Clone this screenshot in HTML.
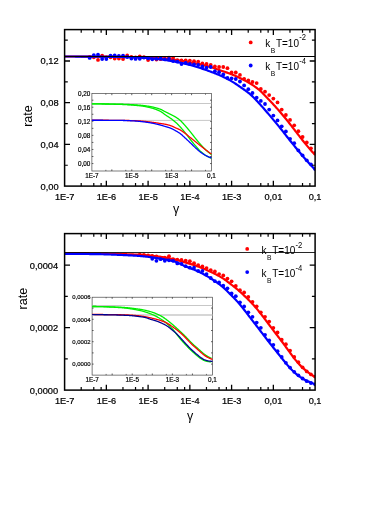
<!DOCTYPE html>
<html><head><meta charset="utf-8"><title>rate vs gamma</title>
<style>html,body{margin:0;padding:0;background:#fff;}body{width:390px;height:505px;overflow:hidden;position:relative;font-family:"Liberation Sans",sans-serif;}svg{display:block;position:absolute;left:0;top:0} svg.t{will-change:transform}</style>
</head><body>
<svg width="390" height="505" viewBox="0 0 390 505">
<defs><clipPath id="c1"><rect x="64.6" y="29.6" width="250.50000000000003" height="156.5"/></clipPath>
<clipPath id="c2"><rect x="64.6" y="233.6" width="250.50000000000003" height="156.50000000000003"/></clipPath></defs>
<rect width="390" height="505" fill="#fff"/>
<g clip-path="url(#c1)">
<path d="M64.60,56.50 L65.44,56.50 L66.28,56.50 L67.11,56.50 L67.95,56.50 L68.79,56.50 L69.63,56.50 L70.46,56.50 L71.30,56.50 L72.14,56.51 L72.98,56.51 L73.82,56.51 L74.65,56.51 L75.49,56.51 L76.33,56.51 L77.17,56.52 L78.00,56.52 L78.84,56.52 L79.68,56.52 L80.52,56.52 L81.36,56.53 L82.19,56.53 L83.03,56.53 L83.87,56.53 L84.71,56.54 L85.54,56.54 L86.38,56.54 L87.22,56.55 L88.06,56.55 L88.90,56.55 L89.73,56.56 L90.57,56.56 L91.41,56.56 L92.25,56.57 L93.08,56.57 L93.92,56.57 L94.76,56.58 L95.60,56.58 L96.44,56.58 L97.27,56.59 L98.11,56.59 L98.95,56.60 L99.79,56.60 L100.63,56.60 L101.46,56.61 L102.30,56.61 L103.14,56.62 L103.98,56.62 L104.81,56.63 L105.65,56.64 L106.49,56.65 L107.33,56.65 L108.17,56.66 L109.00,56.67 L109.84,56.68 L110.68,56.69 L111.52,56.70 L112.35,56.71 L113.19,56.72 L114.03,56.73 L114.87,56.74 L115.71,56.76 L116.54,56.77 L117.38,56.78 L118.22,56.79 L119.06,56.81 L119.89,56.82 L120.73,56.83 L121.57,56.85 L122.41,56.86 L123.25,56.88 L124.08,56.89 L124.92,56.91 L125.76,56.92 L126.60,56.94 L127.43,56.95 L128.27,56.97 L129.11,56.98 L129.95,57.00 L130.79,57.02 L131.62,57.03 L132.46,57.05 L133.30,57.07 L134.14,57.09 L134.97,57.11 L135.81,57.13 L136.65,57.15 L137.49,57.17 L138.33,57.20 L139.16,57.22 L140.00,57.24 L140.84,57.27 L141.68,57.30 L142.51,57.32 L143.35,57.35 L144.19,57.38 L145.03,57.41 L145.87,57.44 L146.70,57.47 L147.54,57.50 L148.38,57.53 L149.22,57.57 L150.05,57.60 L150.89,57.64 L151.73,57.68 L152.57,57.72 L153.41,57.77 L154.24,57.81 L155.08,57.86 L155.92,57.92 L156.76,57.97 L157.59,58.03 L158.43,58.09 L159.27,58.15 L160.11,58.21 L160.95,58.27 L161.78,58.34 L162.62,58.42 L163.46,58.50 L164.30,58.58 L165.14,58.66 L165.97,58.75 L166.81,58.84 L167.65,58.93 L168.49,59.03 L169.32,59.12 L170.16,59.22 L171.00,59.32 L171.84,59.42 L172.68,59.53 L173.51,59.64 L174.35,59.76 L175.19,59.88 L176.03,60.00 L176.86,60.12 L177.70,60.24 L178.54,60.37 L179.38,60.50 L180.22,60.63 L181.05,60.77 L181.89,60.91 L182.73,61.06 L183.57,61.20 L184.40,61.36 L185.24,61.51 L186.08,61.67 L186.92,61.82 L187.76,61.98 L188.59,62.14 L189.43,62.29 L190.27,62.45 L191.11,62.60 L191.94,62.76 L192.78,62.91 L193.62,63.06 L194.46,63.21 L195.30,63.37 L196.13,63.52 L196.97,63.68 L197.81,63.85 L198.65,64.02 L199.48,64.19 L200.32,64.37 L201.16,64.55 L202.00,64.74 L202.84,64.94 L203.67,65.13 L204.51,65.33 L205.35,65.54 L206.19,65.76 L207.02,65.97 L207.86,66.20 L208.70,66.43 L209.54,66.67 L210.38,66.91 L211.21,67.17 L212.05,67.44 L212.89,67.73 L213.73,68.02 L214.56,68.33 L215.40,68.63 L216.24,68.94 L217.08,69.25 L217.92,69.56 L218.75,69.86 L219.59,70.16 L220.43,70.45 L221.27,70.73 L222.11,71.00 L222.94,71.28 L223.78,71.55 L224.62,71.82 L225.46,72.09 L226.29,72.36 L227.13,72.64 L227.97,72.93 L228.81,73.23 L229.65,73.53 L230.48,73.85 L231.32,74.18 L232.16,74.52 L233.00,74.86 L233.83,75.22 L234.67,75.58 L235.51,75.95 L236.35,76.33 L237.19,76.72 L238.02,77.11 L238.86,77.51 L239.70,77.91 L240.54,78.32 L241.37,78.73 L242.21,79.15 L243.05,79.57 L243.89,80.00 L244.73,80.43 L245.56,80.88 L246.40,81.33 L247.24,81.80 L248.08,82.27 L248.91,82.76 L249.75,83.26 L250.59,83.77 L251.43,84.30 L252.27,84.83 L253.10,85.39 L253.94,85.95 L254.78,86.54 L255.62,87.14 L256.45,87.75 L257.29,88.39 L258.13,89.05 L258.97,89.73 L259.81,90.43 L260.64,91.18 L261.48,91.98 L262.32,92.83 L263.16,93.71 L263.99,94.60 L264.83,95.48 L265.67,96.34 L266.51,97.20 L267.35,98.07 L268.18,98.94 L269.02,99.81 L269.86,100.68 L270.70,101.56 L271.53,102.45 L272.37,103.34 L273.21,104.24 L274.05,105.15 L274.89,106.07 L275.72,107.00 L276.56,107.94 L277.40,108.88 L278.24,109.84 L279.07,110.80 L279.91,111.76 L280.75,112.74 L281.59,113.72 L282.43,114.71 L283.26,115.71 L284.10,116.71 L284.94,117.73 L285.78,118.75 L286.62,119.78 L287.45,120.83 L288.29,121.89 L289.13,122.96 L289.97,124.03 L290.80,125.11 L291.64,126.18 L292.48,127.26 L293.32,128.34 L294.16,129.42 L294.99,130.49 L295.83,131.56 L296.67,132.64 L297.51,133.73 L298.34,134.82 L299.18,135.91 L300.02,137.00 L300.86,138.08 L301.70,139.16 L302.53,140.23 L303.37,141.29 L304.21,142.33 L305.05,143.36 L305.88,144.37 L306.72,145.38 L307.56,146.38 L308.40,147.37 L309.24,148.35 L310.07,149.33 L310.91,150.29 L311.75,151.25 L312.59,152.20 L313.42,153.14 L314.26,154.08 L315.10,155.00" fill="none" stroke="#f00" stroke-width="2.2"/>
<circle cx="89.65" cy="57.00" r="1.9" fill="#f00"/>
<circle cx="93.82" cy="57.30" r="1.9" fill="#f00"/>
<circle cx="98.00" cy="59.90" r="1.9" fill="#f00"/>
<circle cx="102.17" cy="55.60" r="1.9" fill="#f00"/>
<circle cx="106.35" cy="57.50" r="1.9" fill="#f00"/>
<circle cx="110.52" cy="57.30" r="1.9" fill="#f00"/>
<circle cx="114.70" cy="58.60" r="1.9" fill="#f00"/>
<circle cx="118.88" cy="58.60" r="1.9" fill="#f00"/>
<circle cx="123.05" cy="59.00" r="1.9" fill="#f00"/>
<circle cx="127.22" cy="55.40" r="1.9" fill="#f00"/>
<circle cx="131.40" cy="57.00" r="1.9" fill="#f00"/>
<circle cx="135.57" cy="57.44" r="1.9" fill="#f00"/>
<circle cx="139.75" cy="56.32" r="1.9" fill="#f00"/>
<circle cx="143.93" cy="57.26" r="1.9" fill="#f00"/>
<circle cx="148.10" cy="60.00" r="1.9" fill="#f00"/>
<circle cx="152.28" cy="57.85" r="1.9" fill="#f00"/>
<circle cx="156.45" cy="59.50" r="1.9" fill="#f00"/>
<circle cx="160.62" cy="59.15" r="1.9" fill="#f00"/>
<circle cx="164.80" cy="58.39" r="1.9" fill="#f00"/>
<circle cx="168.97" cy="57.68" r="1.9" fill="#f00"/>
<circle cx="173.15" cy="57.84" r="1.9" fill="#f00"/>
<circle cx="177.32" cy="60.18" r="1.9" fill="#f00"/>
<circle cx="181.50" cy="60.40" r="1.9" fill="#f00"/>
<circle cx="185.68" cy="60.30" r="1.9" fill="#f00"/>
<circle cx="189.85" cy="60.60" r="1.9" fill="#f00"/>
<circle cx="194.03" cy="61.20" r="1.9" fill="#f00"/>
<circle cx="198.20" cy="61.60" r="1.9" fill="#f00"/>
<circle cx="202.38" cy="63.50" r="1.9" fill="#f00"/>
<circle cx="206.55" cy="64.00" r="1.9" fill="#f00"/>
<circle cx="210.72" cy="65.00" r="1.9" fill="#f00"/>
<circle cx="214.90" cy="66.50" r="1.9" fill="#f00"/>
<circle cx="219.08" cy="67.00" r="1.9" fill="#f00"/>
<circle cx="223.25" cy="67.00" r="1.9" fill="#f00"/>
<circle cx="227.43" cy="68.20" r="1.9" fill="#f00"/>
<circle cx="231.60" cy="72.50" r="1.9" fill="#f00"/>
<circle cx="235.78" cy="72.50" r="1.9" fill="#f00"/>
<circle cx="239.95" cy="74.90" r="1.9" fill="#f00"/>
<circle cx="244.12" cy="78.80" r="1.9" fill="#f00"/>
<circle cx="248.30" cy="80.50" r="1.9" fill="#f00"/>
<circle cx="252.48" cy="82.00" r="1.9" fill="#f00"/>
<circle cx="256.65" cy="83.10" r="1.9" fill="#f00"/>
<circle cx="260.82" cy="88.90" r="1.9" fill="#f00"/>
<circle cx="265.00" cy="91.70" r="1.9" fill="#f00"/>
<circle cx="269.18" cy="95.10" r="1.9" fill="#f00"/>
<circle cx="273.35" cy="98.60" r="1.9" fill="#f00"/>
<circle cx="277.53" cy="102.40" r="1.9" fill="#f00"/>
<circle cx="281.70" cy="109.60" r="1.9" fill="#f00"/>
<circle cx="285.88" cy="115.00" r="1.9" fill="#f00"/>
<circle cx="290.05" cy="119.90" r="1.9" fill="#f00"/>
<circle cx="294.23" cy="125.30" r="1.9" fill="#f00"/>
<circle cx="298.40" cy="131.20" r="1.9" fill="#f00"/>
<circle cx="302.58" cy="137.00" r="1.9" fill="#f00"/>
<circle cx="306.75" cy="142.50" r="1.9" fill="#f00"/>
<circle cx="310.93" cy="148.30" r="1.9" fill="#f00"/>
<circle cx="315.10" cy="153.00" r="1.9" fill="#f00"/>
<path d="M64.60,56.50 L65.44,56.50 L66.28,56.50 L67.11,56.50 L67.95,56.50 L68.79,56.50 L69.63,56.51 L70.46,56.51 L71.30,56.51 L72.14,56.51 L72.98,56.52 L73.82,56.52 L74.65,56.52 L75.49,56.53 L76.33,56.53 L77.17,56.53 L78.00,56.54 L78.84,56.54 L79.68,56.55 L80.52,56.55 L81.36,56.56 L82.19,56.56 L83.03,56.57 L83.87,56.57 L84.71,56.58 L85.54,56.58 L86.38,56.59 L87.22,56.60 L88.06,56.60 L88.90,56.61 L89.73,56.62 L90.57,56.62 L91.41,56.63 L92.25,56.63 L93.08,56.64 L93.92,56.65 L94.76,56.66 L95.60,56.66 L96.44,56.67 L97.27,56.68 L98.11,56.68 L98.95,56.69 L99.79,56.70 L100.63,56.71 L101.46,56.71 L102.30,56.72 L103.14,56.73 L103.98,56.74 L104.81,56.75 L105.65,56.76 L106.49,56.76 L107.33,56.77 L108.17,56.79 L109.00,56.80 L109.84,56.81 L110.68,56.82 L111.52,56.83 L112.35,56.84 L113.19,56.85 L114.03,56.87 L114.87,56.88 L115.71,56.89 L116.54,56.91 L117.38,56.92 L118.22,56.94 L119.06,56.95 L119.89,56.97 L120.73,56.99 L121.57,57.00 L122.41,57.02 L123.25,57.04 L124.08,57.06 L124.92,57.07 L125.76,57.09 L126.60,57.11 L127.43,57.13 L128.27,57.16 L129.11,57.18 L129.95,57.20 L130.79,57.22 L131.62,57.25 L132.46,57.28 L133.30,57.31 L134.14,57.34 L134.97,57.38 L135.81,57.41 L136.65,57.45 L137.49,57.50 L138.33,57.54 L139.16,57.59 L140.00,57.63 L140.84,57.68 L141.68,57.73 L142.51,57.78 L143.35,57.84 L144.19,57.89 L145.03,57.95 L145.87,58.01 L146.70,58.06 L147.54,58.12 L148.38,58.18 L149.22,58.24 L150.05,58.30 L150.89,58.37 L151.73,58.44 L152.57,58.51 L153.41,58.59 L154.24,58.67 L155.08,58.75 L155.92,58.84 L156.76,58.93 L157.59,59.02 L158.43,59.12 L159.27,59.21 L160.11,59.31 L160.95,59.42 L161.78,59.53 L162.62,59.64 L163.46,59.76 L164.30,59.89 L165.14,60.02 L165.97,60.15 L166.81,60.28 L167.65,60.42 L168.49,60.55 L169.32,60.69 L170.16,60.83 L171.00,60.96 L171.84,61.10 L172.68,61.25 L173.51,61.39 L174.35,61.54 L175.19,61.68 L176.03,61.84 L176.86,61.99 L177.70,62.15 L178.54,62.31 L179.38,62.47 L180.22,62.64 L181.05,62.82 L181.89,62.99 L182.73,63.18 L183.57,63.36 L184.40,63.55 L185.24,63.74 L186.08,63.94 L186.92,64.14 L187.76,64.35 L188.59,64.56 L189.43,64.77 L190.27,64.99 L191.11,65.22 L191.94,65.45 L192.78,65.69 L193.62,65.93 L194.46,66.18 L195.30,66.44 L196.13,66.70 L196.97,66.96 L197.81,67.23 L198.65,67.50 L199.48,67.77 L200.32,68.04 L201.16,68.32 L202.00,68.59 L202.84,68.87 L203.67,69.16 L204.51,69.44 L205.35,69.73 L206.19,70.02 L207.02,70.32 L207.86,70.62 L208.70,70.92 L209.54,71.23 L210.38,71.54 L211.21,71.86 L212.05,72.17 L212.89,72.49 L213.73,72.81 L214.56,73.14 L215.40,73.47 L216.24,73.81 L217.08,74.15 L217.92,74.50 L218.75,74.86 L219.59,75.22 L220.43,75.59 L221.27,75.97 L222.11,76.35 L222.94,76.74 L223.78,77.13 L224.62,77.54 L225.46,77.95 L226.29,78.37 L227.13,78.79 L227.97,79.23 L228.81,79.68 L229.65,80.13 L230.48,80.60 L231.32,81.09 L232.16,81.59 L233.00,82.11 L233.83,82.64 L234.67,83.18 L235.51,83.73 L236.35,84.29 L237.19,84.86 L238.02,85.43 L238.86,86.01 L239.70,86.59 L240.54,87.18 L241.37,87.76 L242.21,88.33 L243.05,88.92 L243.89,89.50 L244.73,90.09 L245.56,90.69 L246.40,91.30 L247.24,91.93 L248.08,92.57 L248.91,93.23 L249.75,93.91 L250.59,94.62 L251.43,95.36 L252.27,96.13 L253.10,96.94 L253.94,97.78 L254.78,98.64 L255.62,99.53 L256.45,100.43 L257.29,101.34 L258.13,102.25 L258.97,103.17 L259.81,104.09 L260.64,105.00 L261.48,105.93 L262.32,106.87 L263.16,107.82 L263.99,108.78 L264.83,109.75 L265.67,110.72 L266.51,111.70 L267.35,112.68 L268.18,113.66 L269.02,114.65 L269.86,115.63 L270.70,116.62 L271.53,117.61 L272.37,118.60 L273.21,119.59 L274.05,120.59 L274.89,121.59 L275.72,122.59 L276.56,123.60 L277.40,124.62 L278.24,125.64 L279.07,126.66 L279.91,127.69 L280.75,128.73 L281.59,129.78 L282.43,130.84 L283.26,131.91 L284.10,132.98 L284.94,134.05 L285.78,135.13 L286.62,136.20 L287.45,137.28 L288.29,138.34 L289.13,139.41 L289.97,140.46 L290.80,141.50 L291.64,142.55 L292.48,143.60 L293.32,144.64 L294.16,145.68 L294.99,146.72 L295.83,147.75 L296.67,148.78 L297.51,149.80 L298.34,150.82 L299.18,151.82 L300.02,152.82 L300.86,153.82 L301.70,154.81 L302.53,155.79 L303.37,156.77 L304.21,157.75 L305.05,158.72 L305.88,159.68 L306.72,160.64 L307.56,161.58 L308.40,162.52 L309.24,163.46 L310.07,164.38 L310.91,165.29 L311.75,166.19 L312.59,167.08 L313.42,167.96 L314.26,168.84 L315.10,169.70" fill="none" stroke="#00f" stroke-width="2.2"/>
<circle cx="89.65" cy="57.90" r="1.9" fill="#00f"/>
<circle cx="93.82" cy="55.10" r="1.9" fill="#00f"/>
<circle cx="98.00" cy="54.70" r="1.9" fill="#00f"/>
<circle cx="102.17" cy="59.00" r="1.9" fill="#00f"/>
<circle cx="106.35" cy="59.00" r="1.9" fill="#00f"/>
<circle cx="110.52" cy="55.60" r="1.9" fill="#00f"/>
<circle cx="114.70" cy="55.40" r="1.9" fill="#00f"/>
<circle cx="118.88" cy="56.00" r="1.9" fill="#00f"/>
<circle cx="123.05" cy="55.60" r="1.9" fill="#00f"/>
<circle cx="127.22" cy="57.00" r="1.9" fill="#00f"/>
<circle cx="131.40" cy="58.60" r="1.9" fill="#00f"/>
<circle cx="135.57" cy="58.90" r="1.9" fill="#00f"/>
<circle cx="139.75" cy="58.81" r="1.9" fill="#00f"/>
<circle cx="143.93" cy="57.56" r="1.9" fill="#00f"/>
<circle cx="148.10" cy="58.35" r="1.9" fill="#00f"/>
<circle cx="152.28" cy="59.36" r="1.9" fill="#00f"/>
<circle cx="156.45" cy="58.86" r="1.9" fill="#00f"/>
<circle cx="160.62" cy="58.21" r="1.9" fill="#00f"/>
<circle cx="164.80" cy="59.44" r="1.9" fill="#00f"/>
<circle cx="168.97" cy="58.82" r="1.9" fill="#00f"/>
<circle cx="173.15" cy="61.04" r="1.9" fill="#00f"/>
<circle cx="177.32" cy="61.69" r="1.9" fill="#00f"/>
<circle cx="181.50" cy="64.00" r="1.9" fill="#00f"/>
<circle cx="185.68" cy="63.00" r="1.9" fill="#00f"/>
<circle cx="189.85" cy="64.00" r="1.9" fill="#00f"/>
<circle cx="194.03" cy="64.30" r="1.9" fill="#00f"/>
<circle cx="198.20" cy="65.00" r="1.9" fill="#00f"/>
<circle cx="202.38" cy="66.50" r="1.9" fill="#00f"/>
<circle cx="206.55" cy="67.60" r="1.9" fill="#00f"/>
<circle cx="210.72" cy="67.00" r="1.9" fill="#00f"/>
<circle cx="214.90" cy="71.20" r="1.9" fill="#00f"/>
<circle cx="219.08" cy="72.20" r="1.9" fill="#00f"/>
<circle cx="223.25" cy="74.40" r="1.9" fill="#00f"/>
<circle cx="227.43" cy="78.00" r="1.9" fill="#00f"/>
<circle cx="231.60" cy="78.30" r="1.9" fill="#00f"/>
<circle cx="235.78" cy="79.00" r="1.9" fill="#00f"/>
<circle cx="239.95" cy="81.50" r="1.9" fill="#00f"/>
<circle cx="244.12" cy="85.40" r="1.9" fill="#00f"/>
<circle cx="248.30" cy="89.20" r="1.9" fill="#00f"/>
<circle cx="252.48" cy="93.00" r="1.9" fill="#00f"/>
<circle cx="256.65" cy="97.70" r="1.9" fill="#00f"/>
<circle cx="260.82" cy="100.90" r="1.9" fill="#00f"/>
<circle cx="265.00" cy="104.00" r="1.9" fill="#00f"/>
<circle cx="269.18" cy="109.60" r="1.9" fill="#00f"/>
<circle cx="273.35" cy="115.60" r="1.9" fill="#00f"/>
<circle cx="277.53" cy="120.40" r="1.9" fill="#00f"/>
<circle cx="281.70" cy="126.30" r="1.9" fill="#00f"/>
<circle cx="285.88" cy="131.40" r="1.9" fill="#00f"/>
<circle cx="290.05" cy="138.80" r="1.9" fill="#00f"/>
<circle cx="294.23" cy="143.20" r="1.9" fill="#00f"/>
<circle cx="298.40" cy="150.40" r="1.9" fill="#00f"/>
<circle cx="302.58" cy="155.30" r="1.9" fill="#00f"/>
<circle cx="306.75" cy="160.30" r="1.9" fill="#00f"/>
<circle cx="310.93" cy="164.30" r="1.9" fill="#00f"/>
<circle cx="315.10" cy="169.00" r="1.9" fill="#00f"/>
<path d="M64.6,56.5 H315.1" stroke="#000" stroke-width="1"/>
</g>
<rect x="91.9" y="93.6" width="119.6" height="77.4" fill="#fff" stroke="none"/>
<rect x="91.9" y="93.6" width="119.6" height="77.4" fill="none" stroke="#383838" stroke-width="0.65"/>
<path d="M91.9,163.55 h1.5 M211.5,163.55 h-1.5" stroke="#222" stroke-width="0.7"/>
<path d="M91.9,156.51 h1.5 M211.5,156.51 h-1.5" stroke="#222" stroke-width="0.7"/>
<path d="M91.9,149.47 h1.5 M211.5,149.47 h-1.5" stroke="#222" stroke-width="0.7"/>
<path d="M91.9,142.43 h1.5 M211.5,142.43 h-1.5" stroke="#222" stroke-width="0.7"/>
<path d="M91.9,135.39 h1.5 M211.5,135.39 h-1.5" stroke="#222" stroke-width="0.7"/>
<path d="M91.9,128.35 h1.5 M211.5,128.35 h-1.5" stroke="#222" stroke-width="0.7"/>
<path d="M91.9,121.31 h1.5 M211.5,121.31 h-1.5" stroke="#222" stroke-width="0.7"/>
<path d="M91.9,114.27 h1.5 M211.5,114.27 h-1.5" stroke="#222" stroke-width="0.7"/>
<path d="M91.9,107.23 h1.5 M211.5,107.23 h-1.5" stroke="#222" stroke-width="0.7"/>
<path d="M91.9,100.19 h1.5 M211.5,100.19 h-1.5" stroke="#222" stroke-width="0.7"/>
<path d="M105.83,93.6 v1.2 M105.83,171.0 v-1.2" stroke="#222" stroke-width="0.6"/>
<path d="M111.83,93.6 v1.6 M111.83,171.0 v-1.6" stroke="#222" stroke-width="0.7"/>
<path d="M125.77,93.6 v1.2 M125.77,171.0 v-1.2" stroke="#222" stroke-width="0.6"/>
<path d="M131.77,93.6 v1.6 M131.77,171.0 v-1.6" stroke="#222" stroke-width="0.7"/>
<path d="M145.70,93.6 v1.2 M145.70,171.0 v-1.2" stroke="#222" stroke-width="0.6"/>
<path d="M151.70,93.6 v1.6 M151.70,171.0 v-1.6" stroke="#222" stroke-width="0.7"/>
<path d="M165.63,93.6 v1.2 M165.63,171.0 v-1.2" stroke="#222" stroke-width="0.6"/>
<path d="M171.63,93.6 v1.6 M171.63,171.0 v-1.6" stroke="#222" stroke-width="0.7"/>
<path d="M185.57,93.6 v1.2 M185.57,171.0 v-1.2" stroke="#222" stroke-width="0.6"/>
<path d="M191.57,93.6 v1.6 M191.57,171.0 v-1.6" stroke="#222" stroke-width="0.7"/>
<path d="M205.50,93.6 v1.2 M205.50,171.0 v-1.2" stroke="#222" stroke-width="0.6"/>
<path d="M91.9,103.5 H211.5 M91.9,120.4 H211.5" stroke="#b4b4b4" stroke-width="0.75"/>
<path d="M91.90,103.90 L92.20,103.90 L92.50,103.90 L92.80,103.90 L93.10,103.90 L93.40,103.90 L93.70,103.90 L94.00,103.90 L94.30,103.90 L94.60,103.90 L94.90,103.90 L95.20,103.91 L95.50,103.91 L95.80,103.91 L96.10,103.91 L96.40,103.91 L96.70,103.91 L97.00,103.91 L97.30,103.91 L97.60,103.92 L97.89,103.92 L98.19,103.92 L98.49,103.92 L98.79,103.92 L99.09,103.92 L99.39,103.93 L99.69,103.93 L99.99,103.93 L100.29,103.93 L100.59,103.93 L100.89,103.94 L101.19,103.94 L101.49,103.94 L101.79,103.94 L102.09,103.95 L102.39,103.95 L102.69,103.95 L102.99,103.95 L103.29,103.96 L103.59,103.96 L103.89,103.96 L104.19,103.97 L104.49,103.97 L104.79,103.97 L105.09,103.98 L105.39,103.98 L105.69,103.98 L105.99,103.99 L106.29,103.99 L106.59,103.99 L106.89,104.00 L107.19,104.00 L107.49,104.00 L107.79,104.01 L108.09,104.01 L108.39,104.02 L108.69,104.02 L108.99,104.02 L109.29,104.03 L109.59,104.03 L109.88,104.04 L110.18,104.04 L110.48,104.04 L110.78,104.05 L111.08,104.05 L111.38,104.06 L111.68,104.06 L111.98,104.07 L112.28,104.07 L112.58,104.07 L112.88,104.08 L113.18,104.08 L113.48,104.09 L113.78,104.09 L114.08,104.10 L114.38,104.10 L114.68,104.11 L114.98,104.11 L115.28,104.12 L115.58,104.12 L115.88,104.13 L116.18,104.13 L116.48,104.14 L116.78,104.14 L117.08,104.15 L117.38,104.15 L117.68,104.16 L117.98,104.16 L118.28,104.17 L118.58,104.17 L118.88,104.18 L119.18,104.19 L119.48,104.19 L119.78,104.20 L120.08,104.20 L120.38,104.21 L120.68,104.21 L120.98,104.22 L121.28,104.23 L121.58,104.23 L121.87,104.24 L122.17,104.25 L122.47,104.26 L122.77,104.26 L123.07,104.27 L123.37,104.28 L123.67,104.29 L123.97,104.30 L124.27,104.31 L124.57,104.32 L124.87,104.33 L125.17,104.34 L125.47,104.35 L125.77,104.37 L126.07,104.38 L126.37,104.39 L126.67,104.40 L126.97,104.41 L127.27,104.43 L127.57,104.44 L127.87,104.45 L128.17,104.47 L128.47,104.48 L128.77,104.49 L129.07,104.51 L129.37,104.52 L129.67,104.54 L129.97,104.55 L130.27,104.57 L130.57,104.59 L130.87,104.60 L131.17,104.62 L131.47,104.63 L131.77,104.65 L132.07,104.67 L132.37,104.69 L132.67,104.70 L132.97,104.72 L133.27,104.74 L133.57,104.76 L133.86,104.78 L134.16,104.79 L134.46,104.81 L134.76,104.83 L135.06,104.85 L135.36,104.87 L135.66,104.89 L135.96,104.91 L136.26,104.93 L136.56,104.95 L136.86,104.97 L137.16,104.99 L137.46,105.01 L137.76,105.04 L138.06,105.06 L138.36,105.08 L138.66,105.10 L138.96,105.12 L139.26,105.14 L139.56,105.17 L139.86,105.19 L140.16,105.21 L140.46,105.24 L140.76,105.26 L141.06,105.29 L141.36,105.31 L141.66,105.34 L141.96,105.37 L142.26,105.40 L142.56,105.43 L142.86,105.47 L143.16,105.50 L143.46,105.54 L143.76,105.57 L144.06,105.61 L144.36,105.64 L144.66,105.68 L144.96,105.72 L145.26,105.76 L145.56,105.80 L145.85,105.84 L146.15,105.89 L146.45,105.93 L146.75,105.98 L147.05,106.02 L147.35,106.07 L147.65,106.11 L147.95,106.16 L148.25,106.21 L148.55,106.26 L148.85,106.31 L149.15,106.36 L149.45,106.41 L149.75,106.46 L150.05,106.51 L150.35,106.56 L150.65,106.62 L150.95,106.67 L151.25,106.73 L151.55,106.79 L151.85,106.85 L152.15,106.91 L152.45,106.97 L152.75,107.04 L153.05,107.10 L153.35,107.17 L153.65,107.24 L153.95,107.31 L154.25,107.38 L154.55,107.46 L154.85,107.53 L155.15,107.61 L155.45,107.69 L155.75,107.77 L156.05,107.85 L156.35,107.93 L156.65,108.02 L156.95,108.10 L157.25,108.19 L157.55,108.28 L157.84,108.38 L158.14,108.47 L158.44,108.57 L158.74,108.66 L159.04,108.76 L159.34,108.86 L159.64,108.97 L159.94,109.07 L160.24,109.18 L160.54,109.29 L160.84,109.41 L161.14,109.55 L161.44,109.69 L161.74,109.83 L162.04,109.99 L162.34,110.15 L162.64,110.31 L162.94,110.48 L163.24,110.64 L163.54,110.81 L163.84,110.98 L164.14,111.14 L164.44,111.31 L164.74,111.47 L165.04,111.62 L165.34,111.77 L165.64,111.92 L165.94,112.07 L166.24,112.22 L166.54,112.37 L166.84,112.52 L167.14,112.67 L167.44,112.82 L167.74,112.96 L168.04,113.11 L168.34,113.26 L168.64,113.41 L168.94,113.56 L169.24,113.71 L169.54,113.86 L169.83,114.01 L170.13,114.16 L170.43,114.31 L170.73,114.46 L171.03,114.61 L171.33,114.77 L171.63,114.92 L171.93,115.07 L172.23,115.22 L172.53,115.37 L172.83,115.52 L173.13,115.68 L173.43,115.83 L173.73,115.99 L174.03,116.15 L174.33,116.31 L174.63,116.48 L174.93,116.66 L175.23,116.84 L175.53,117.02 L175.83,117.21 L176.13,117.40 L176.43,117.59 L176.73,117.79 L177.03,117.99 L177.33,118.19 L177.63,118.40 L177.93,118.61 L178.23,118.83 L178.53,119.05 L178.83,119.28 L179.13,119.51 L179.43,119.75 L179.73,119.99 L180.03,120.24 L180.33,120.49 L180.63,120.76 L180.93,121.04 L181.23,121.33 L181.53,121.63 L181.82,121.94 L182.12,122.25 L182.42,122.57 L182.72,122.90 L183.02,123.23 L183.32,123.56 L183.62,123.90 L183.92,124.24 L184.22,124.58 L184.52,124.92 L184.82,125.26 L185.12,125.60 L185.42,125.94 L185.72,126.28 L186.02,126.62 L186.32,126.97 L186.62,127.32 L186.92,127.67 L187.22,128.03 L187.52,128.38 L187.82,128.74 L188.12,129.10 L188.42,129.47 L188.72,129.83 L189.02,130.20 L189.32,130.57 L189.62,130.94 L189.92,131.31 L190.22,131.68 L190.52,132.05 L190.82,132.42 L191.12,132.80 L191.42,133.18 L191.72,133.56 L192.02,133.94 L192.32,134.33 L192.62,134.72 L192.92,135.11 L193.22,135.49 L193.52,135.88 L193.81,136.27 L194.11,136.65 L194.41,137.04 L194.71,137.42 L195.01,137.79 L195.31,138.17 L195.61,138.54 L195.91,138.91 L196.21,139.28 L196.51,139.65 L196.81,140.02 L197.11,140.39 L197.41,140.75 L197.71,141.12 L198.01,141.48 L198.31,141.84 L198.61,142.20 L198.91,142.56 L199.21,142.91 L199.51,143.26 L199.81,143.61 L200.11,143.95 L200.41,144.29 L200.71,144.62 L201.01,144.95 L201.31,145.28 L201.61,145.61 L201.91,145.94 L202.21,146.27 L202.51,146.59 L202.81,146.91 L203.11,147.23 L203.41,147.54 L203.71,147.85 L204.01,148.16 L204.31,148.46 L204.61,148.76 L204.91,149.05 L205.21,149.34 L205.51,149.63 L205.80,149.90 L206.10,150.18 L206.40,150.45 L206.70,150.72 L207.00,150.99 L207.30,151.25 L207.60,151.51 L207.90,151.77 L208.20,152.02 L208.50,152.28 L208.80,152.52 L209.10,152.77 L209.40,153.01 L209.70,153.25 L210.00,153.48 L210.30,153.71 L210.60,153.94 L210.90,154.16 L211.20,154.38 L211.50,154.60" fill="none" stroke="#0e0" stroke-width="1.3"/>
<path d="M91.90,103.90 L92.20,103.90 L92.50,103.90 L92.80,103.90 L93.10,103.90 L93.40,103.90 L93.70,103.90 L94.00,103.90 L94.30,103.90 L94.60,103.91 L94.90,103.91 L95.20,103.91 L95.50,103.91 L95.80,103.91 L96.10,103.91 L96.40,103.92 L96.70,103.92 L97.00,103.92 L97.30,103.92 L97.60,103.93 L97.89,103.93 L98.19,103.93 L98.49,103.93 L98.79,103.94 L99.09,103.94 L99.39,103.94 L99.69,103.95 L99.99,103.95 L100.29,103.96 L100.59,103.96 L100.89,103.96 L101.19,103.97 L101.49,103.97 L101.79,103.98 L102.09,103.98 L102.39,103.98 L102.69,103.99 L102.99,103.99 L103.29,104.00 L103.59,104.00 L103.89,104.01 L104.19,104.01 L104.49,104.02 L104.79,104.03 L105.09,104.03 L105.39,104.04 L105.69,104.04 L105.99,104.05 L106.29,104.05 L106.59,104.06 L106.89,104.07 L107.19,104.07 L107.49,104.08 L107.79,104.08 L108.09,104.09 L108.39,104.10 L108.69,104.10 L108.99,104.11 L109.29,104.12 L109.59,104.12 L109.88,104.13 L110.18,104.14 L110.48,104.14 L110.78,104.15 L111.08,104.16 L111.38,104.17 L111.68,104.17 L111.98,104.18 L112.28,104.19 L112.58,104.20 L112.88,104.20 L113.18,104.21 L113.48,104.22 L113.78,104.23 L114.08,104.23 L114.38,104.24 L114.68,104.25 L114.98,104.26 L115.28,104.27 L115.58,104.27 L115.88,104.28 L116.18,104.29 L116.48,104.30 L116.78,104.31 L117.08,104.32 L117.38,104.32 L117.68,104.33 L117.98,104.34 L118.28,104.35 L118.58,104.36 L118.88,104.37 L119.18,104.38 L119.48,104.38 L119.78,104.39 L120.08,104.40 L120.38,104.41 L120.68,104.42 L120.98,104.43 L121.28,104.44 L121.58,104.45 L121.87,104.46 L122.17,104.47 L122.47,104.49 L122.77,104.50 L123.07,104.51 L123.37,104.52 L123.67,104.54 L123.97,104.55 L124.27,104.57 L124.57,104.58 L124.87,104.60 L125.17,104.61 L125.47,104.63 L125.77,104.64 L126.07,104.66 L126.37,104.68 L126.67,104.69 L126.97,104.71 L127.27,104.73 L127.57,104.75 L127.87,104.77 L128.17,104.78 L128.47,104.80 L128.77,104.82 L129.07,104.84 L129.37,104.86 L129.67,104.89 L129.97,104.91 L130.27,104.93 L130.57,104.95 L130.87,104.97 L131.17,104.99 L131.47,105.02 L131.77,105.04 L132.07,105.06 L132.37,105.09 L132.67,105.11 L132.97,105.14 L133.27,105.16 L133.57,105.19 L133.86,105.21 L134.16,105.24 L134.46,105.26 L134.76,105.29 L135.06,105.32 L135.36,105.34 L135.66,105.37 L135.96,105.40 L136.26,105.43 L136.56,105.45 L136.86,105.48 L137.16,105.51 L137.46,105.54 L137.76,105.57 L138.06,105.60 L138.36,105.63 L138.66,105.66 L138.96,105.69 L139.26,105.72 L139.56,105.75 L139.86,105.79 L140.16,105.82 L140.46,105.85 L140.76,105.89 L141.06,105.92 L141.36,105.96 L141.66,106.00 L141.96,106.04 L142.26,106.08 L142.56,106.13 L142.86,106.17 L143.16,106.22 L143.46,106.27 L143.76,106.32 L144.06,106.37 L144.36,106.42 L144.66,106.47 L144.96,106.53 L145.26,106.58 L145.56,106.64 L145.85,106.69 L146.15,106.75 L146.45,106.81 L146.75,106.88 L147.05,106.94 L147.35,107.00 L147.65,107.06 L147.95,107.13 L148.25,107.20 L148.55,107.26 L148.85,107.33 L149.15,107.40 L149.45,107.47 L149.75,107.54 L150.05,107.61 L150.35,107.69 L150.65,107.76 L150.95,107.84 L151.25,107.92 L151.55,108.00 L151.85,108.08 L152.15,108.16 L152.45,108.25 L152.75,108.34 L153.05,108.43 L153.35,108.52 L153.65,108.61 L153.95,108.71 L154.25,108.81 L154.55,108.91 L154.85,109.01 L155.15,109.12 L155.45,109.23 L155.75,109.34 L156.05,109.45 L156.35,109.56 L156.65,109.68 L156.95,109.80 L157.25,109.92 L157.55,110.04 L157.84,110.17 L158.14,110.30 L158.44,110.43 L158.74,110.56 L159.04,110.70 L159.34,110.84 L159.64,110.98 L159.94,111.13 L160.24,111.27 L160.54,111.43 L160.84,111.59 L161.14,111.78 L161.44,111.97 L161.74,112.17 L162.04,112.39 L162.34,112.61 L162.64,112.83 L162.94,113.06 L163.24,113.29 L163.54,113.52 L163.84,113.75 L164.14,113.98 L164.44,114.20 L164.74,114.42 L165.04,114.63 L165.34,114.83 L165.64,115.03 L165.94,115.23 L166.24,115.43 L166.54,115.63 L166.84,115.83 L167.14,116.02 L167.44,116.22 L167.74,116.42 L168.04,116.61 L168.34,116.81 L168.64,117.01 L168.94,117.20 L169.24,117.40 L169.54,117.60 L169.83,117.80 L170.13,118.01 L170.43,118.22 L170.73,118.42 L171.03,118.64 L171.33,118.85 L171.63,119.07 L171.93,119.29 L172.23,119.51 L172.53,119.73 L172.83,119.96 L173.13,120.18 L173.43,120.41 L173.73,120.65 L174.03,120.89 L174.33,121.13 L174.63,121.38 L174.93,121.64 L175.23,121.90 L175.53,122.17 L175.83,122.44 L176.13,122.72 L176.43,123.01 L176.73,123.30 L177.03,123.59 L177.33,123.89 L177.63,124.20 L177.93,124.50 L178.23,124.81 L178.53,125.12 L178.83,125.44 L179.13,125.76 L179.43,126.08 L179.73,126.40 L180.03,126.72 L180.33,127.05 L180.63,127.37 L180.93,127.71 L181.23,128.04 L181.53,128.38 L181.82,128.73 L182.12,129.07 L182.42,129.42 L182.72,129.77 L183.02,130.13 L183.32,130.49 L183.62,130.85 L183.92,131.21 L184.22,131.57 L184.52,131.94 L184.82,132.31 L185.12,132.68 L185.42,133.05 L185.72,133.43 L186.02,133.81 L186.32,134.20 L186.62,134.59 L186.92,134.99 L187.22,135.39 L187.52,135.79 L187.82,136.19 L188.12,136.60 L188.42,137.00 L188.72,137.40 L189.02,137.80 L189.32,138.20 L189.62,138.59 L189.92,138.98 L190.22,139.37 L190.52,139.75 L190.82,140.13 L191.12,140.50 L191.42,140.88 L191.72,141.25 L192.02,141.62 L192.32,141.99 L192.62,142.36 L192.92,142.73 L193.22,143.09 L193.52,143.45 L193.81,143.82 L194.11,144.17 L194.41,144.53 L194.71,144.88 L195.01,145.24 L195.31,145.58 L195.61,145.93 L195.91,146.28 L196.21,146.63 L196.51,146.98 L196.81,147.33 L197.11,147.67 L197.41,148.02 L197.71,148.37 L198.01,148.71 L198.31,149.04 L198.61,149.38 L198.91,149.70 L199.21,150.02 L199.51,150.33 L199.81,150.64 L200.11,150.94 L200.41,151.22 L200.71,151.50 L201.01,151.77 L201.31,152.04 L201.61,152.31 L201.91,152.57 L202.21,152.83 L202.51,153.09 L202.81,153.34 L203.11,153.59 L203.41,153.83 L203.71,154.06 L204.01,154.29 L204.31,154.51 L204.61,154.72 L204.91,154.93 L205.21,155.13 L205.51,155.32 L205.80,155.50 L206.10,155.68 L206.40,155.85 L206.70,156.03 L207.00,156.19 L207.30,156.36 L207.60,156.52 L207.90,156.68 L208.20,156.83 L208.50,156.98 L208.80,157.13 L209.10,157.27 L209.40,157.40 L209.70,157.53 L210.00,157.66 L210.30,157.78 L210.60,157.89 L210.90,158.00 L211.20,158.10 L211.50,158.20" fill="none" stroke="#0e0" stroke-width="1.3"/>
<path d="M91.90,120.24 L92.14,120.24 L92.38,120.24 L92.62,120.24 L92.86,120.24 L93.10,120.24 L93.34,120.24 L93.58,120.24 L93.82,120.24 L94.06,120.24 L94.30,120.24 L94.54,120.24 L94.78,120.24 L95.02,120.24 L95.26,120.24 L95.50,120.24 L95.73,120.24 L95.97,120.24 L96.21,120.24 L96.45,120.24 L96.69,120.24 L96.93,120.24 L97.17,120.24 L97.41,120.24 L97.65,120.25 L97.89,120.25 L98.13,120.25 L98.37,120.25 L98.61,120.25 L98.85,120.25 L99.09,120.25 L99.33,120.25 L99.57,120.25 L99.81,120.25 L100.05,120.25 L100.29,120.25 L100.53,120.25 L100.77,120.25 L101.01,120.25 L101.25,120.25 L101.49,120.25 L101.73,120.25 L101.97,120.25 L102.21,120.25 L102.45,120.26 L102.69,120.26 L102.93,120.26 L103.16,120.26 L103.40,120.26 L103.64,120.26 L103.88,120.26 L104.12,120.26 L104.36,120.26 L104.60,120.26 L104.84,120.26 L105.08,120.26 L105.32,120.26 L105.56,120.26 L105.80,120.26 L106.04,120.27 L106.28,120.27 L106.52,120.27 L106.76,120.27 L107.00,120.27 L107.24,120.27 L107.48,120.27 L107.72,120.27 L107.96,120.27 L108.20,120.27 L108.44,120.27 L108.68,120.27 L108.92,120.28 L109.16,120.28 L109.40,120.28 L109.64,120.28 L109.88,120.28 L110.12,120.28 L110.36,120.28 L110.59,120.28 L110.83,120.28 L111.07,120.28 L111.31,120.29 L111.55,120.29 L111.79,120.29 L112.03,120.29 L112.27,120.29 L112.51,120.29 L112.75,120.30 L112.99,120.30 L113.23,120.30 L113.47,120.30 L113.71,120.30 L113.95,120.31 L114.19,120.31 L114.43,120.31 L114.67,120.31 L114.91,120.31 L115.15,120.32 L115.39,120.32 L115.63,120.32 L115.87,120.32 L116.11,120.33 L116.35,120.33 L116.59,120.33 L116.83,120.33 L117.07,120.34 L117.31,120.34 L117.55,120.34 L117.79,120.34 L118.03,120.35 L118.26,120.35 L118.50,120.35 L118.74,120.35 L118.98,120.36 L119.22,120.36 L119.46,120.36 L119.70,120.37 L119.94,120.37 L120.18,120.37 L120.42,120.37 L120.66,120.38 L120.90,120.38 L121.14,120.38 L121.38,120.39 L121.62,120.39 L121.86,120.39 L122.10,120.40 L122.34,120.40 L122.58,120.40 L122.82,120.40 L123.06,120.41 L123.30,120.41 L123.54,120.41 L123.78,120.42 L124.02,120.42 L124.26,120.43 L124.50,120.43 L124.74,120.43 L124.98,120.44 L125.22,120.44 L125.46,120.45 L125.69,120.45 L125.93,120.45 L126.17,120.46 L126.41,120.46 L126.65,120.47 L126.89,120.47 L127.13,120.48 L127.37,120.48 L127.61,120.49 L127.85,120.49 L128.09,120.50 L128.33,120.50 L128.57,120.51 L128.81,120.51 L129.05,120.52 L129.29,120.52 L129.53,120.53 L129.77,120.53 L130.01,120.54 L130.25,120.55 L130.49,120.55 L130.73,120.56 L130.97,120.56 L131.21,120.57 L131.45,120.58 L131.69,120.58 L131.93,120.59 L132.17,120.60 L132.41,120.60 L132.65,120.61 L132.89,120.62 L133.12,120.63 L133.36,120.63 L133.60,120.64 L133.84,120.65 L134.08,120.66 L134.32,120.67 L134.56,120.68 L134.80,120.69 L135.04,120.70 L135.28,120.71 L135.52,120.72 L135.76,120.73 L136.00,120.74 L136.24,120.75 L136.48,120.76 L136.72,120.78 L136.96,120.79 L137.20,120.80 L137.44,120.82 L137.68,120.83 L137.92,120.84 L138.16,120.86 L138.40,120.87 L138.64,120.89 L138.88,120.90 L139.12,120.92 L139.36,120.93 L139.60,120.95 L139.84,120.97 L140.08,120.98 L140.32,121.00 L140.55,121.02 L140.79,121.04 L141.03,121.05 L141.27,121.07 L141.51,121.09 L141.75,121.11 L141.99,121.13 L142.23,121.15 L142.47,121.17 L142.71,121.19 L142.95,121.21 L143.19,121.24 L143.43,121.26 L143.67,121.28 L143.91,121.30 L144.15,121.33 L144.39,121.35 L144.63,121.37 L144.87,121.40 L145.11,121.42 L145.35,121.45 L145.59,121.47 L145.83,121.50 L146.07,121.52 L146.31,121.55 L146.55,121.58 L146.79,121.60 L147.03,121.63 L147.27,121.66 L147.51,121.69 L147.75,121.72 L147.98,121.74 L148.22,121.77 L148.46,121.80 L148.70,121.83 L148.94,121.86 L149.18,121.89 L149.42,121.92 L149.66,121.95 L149.90,121.98 L150.14,122.01 L150.38,122.05 L150.62,122.08 L150.86,122.11 L151.10,122.14 L151.34,122.17 L151.58,122.20 L151.82,122.24 L152.06,122.27 L152.30,122.30 L152.54,122.33 L152.78,122.36 L153.02,122.39 L153.26,122.43 L153.50,122.46 L153.74,122.49 L153.98,122.52 L154.22,122.55 L154.46,122.58 L154.70,122.61 L154.94,122.64 L155.18,122.68 L155.42,122.71 L155.65,122.74 L155.89,122.78 L156.13,122.81 L156.37,122.85 L156.61,122.89 L156.85,122.93 L157.09,122.96 L157.33,123.00 L157.57,123.04 L157.81,123.08 L158.05,123.12 L158.29,123.16 L158.53,123.20 L158.77,123.24 L159.01,123.28 L159.25,123.32 L159.49,123.35 L159.73,123.39 L159.97,123.43 L160.21,123.46 L160.45,123.49 L160.69,123.53 L160.93,123.56 L161.17,123.60 L161.41,123.63 L161.65,123.66 L161.89,123.70 L162.13,123.73 L162.37,123.77 L162.61,123.80 L162.85,123.84 L163.08,123.87 L163.32,123.91 L163.56,123.95 L163.80,123.99 L164.04,124.03 L164.28,124.07 L164.52,124.11 L164.76,124.15 L165.00,124.20 L165.24,124.25 L165.48,124.30 L165.72,124.34 L165.96,124.40 L166.20,124.45 L166.44,124.50 L166.68,124.55 L166.92,124.61 L167.16,124.67 L167.40,124.72 L167.64,124.78 L167.88,124.84 L168.12,124.90 L168.36,124.97 L168.60,125.03 L168.84,125.10 L169.08,125.17 L169.32,125.23 L169.56,125.31 L169.80,125.38 L170.04,125.45 L170.28,125.53 L170.51,125.60 L170.75,125.68 L170.99,125.76 L171.23,125.84 L171.47,125.93 L171.71,126.02 L171.95,126.11 L172.19,126.22 L172.43,126.32 L172.67,126.44 L172.91,126.55 L173.15,126.67 L173.39,126.80 L173.63,126.92 L173.87,127.04 L174.11,127.16 L174.35,127.29 L174.59,127.40 L174.83,127.52 L175.07,127.63 L175.31,127.74 L175.55,127.85 L175.79,127.95 L176.03,128.05 L176.27,128.16 L176.51,128.26 L176.75,128.36 L176.99,128.46 L177.23,128.56 L177.47,128.66 L177.71,128.76 L177.94,128.87 L178.18,128.97 L178.42,129.08 L178.66,129.19 L178.90,129.30 L179.14,129.41 L179.38,129.53 L179.62,129.65 L179.86,129.77 L180.10,129.90 L180.34,130.03 L180.58,130.17 L180.82,130.32 L181.06,130.46 L181.30,130.62 L181.54,130.77 L181.78,130.93 L182.02,131.09 L182.26,131.26 L182.50,131.43 L182.74,131.60 L182.98,131.77 L183.22,131.95 L183.46,132.12 L183.70,132.30 L183.94,132.48 L184.18,132.66 L184.42,132.84 L184.66,133.02 L184.90,133.20 L185.14,133.38 L185.37,133.56 L185.61,133.74 L185.85,133.92 L186.09,134.10 L186.33,134.29 L186.57,134.48 L186.81,134.67 L187.05,134.86 L187.29,135.06 L187.53,135.25 L187.77,135.45 L188.01,135.64 L188.25,135.84 L188.49,136.04 L188.73,136.24 L188.97,136.43 L189.21,136.63 L189.45,136.83 L189.69,137.02 L189.93,137.22 L190.17,137.41 L190.41,137.61 L190.65,137.80 L190.89,137.99 L191.13,138.18 L191.37,138.38 L191.61,138.57 L191.85,138.76 L192.09,138.96 L192.33,139.15 L192.57,139.34 L192.81,139.53 L193.04,139.73 L193.28,139.92 L193.52,140.11 L193.76,140.30 L194.00,140.50 L194.24,140.69 L194.48,140.88 L194.72,141.07 L194.96,141.27 L195.20,141.46 L195.44,141.65 L195.68,141.85 L195.92,142.04 L196.16,142.23 L196.40,142.42 L196.64,142.62 L196.88,142.81 L197.12,143.00 L197.36,143.20 L197.60,143.39 L197.84,143.58 L198.08,143.78 L198.32,143.97 L198.56,144.16 L198.80,144.36 L199.04,144.55 L199.28,144.74 L199.52,144.93 L199.76,145.13 L200.00,145.32 L200.24,145.51 L200.47,145.70 L200.71,145.89 L200.95,146.08 L201.19,146.27 L201.43,146.46 L201.67,146.66 L201.91,146.85 L202.15,147.04 L202.39,147.23 L202.63,147.42 L202.87,147.61 L203.11,147.80 L203.35,147.99 L203.59,148.18 L203.83,148.37 L204.07,148.56 L204.31,148.75 L204.55,148.93 L204.79,149.12 L205.03,149.31 L205.27,149.49 L205.51,149.68 L205.75,149.86 L205.99,150.04 L206.23,150.22 L206.47,150.41 L206.71,150.59 L206.95,150.77 L207.19,150.95 L207.43,151.13 L207.67,151.31 L207.90,151.49 L208.14,151.66 L208.38,151.84 L208.62,152.02 L208.86,152.19 L209.10,152.37 L209.34,152.55 L209.58,152.72 L209.82,152.90 L210.06,153.07 L210.30,153.24 L210.54,153.41 L210.78,153.59 L211.02,153.76 L211.26,153.93 L211.50,154.10" fill="none" stroke="#f00" stroke-width="1.3"/>
<path d="M91.90,120.24 L92.14,120.24 L92.38,120.24 L92.62,120.24 L92.86,120.24 L93.10,120.24 L93.34,120.24 L93.58,120.24 L93.82,120.24 L94.06,120.24 L94.30,120.24 L94.54,120.24 L94.78,120.24 L95.02,120.24 L95.26,120.24 L95.50,120.24 L95.73,120.25 L95.97,120.25 L96.21,120.25 L96.45,120.25 L96.69,120.25 L96.93,120.25 L97.17,120.25 L97.41,120.25 L97.65,120.25 L97.89,120.25 L98.13,120.25 L98.37,120.25 L98.61,120.25 L98.85,120.26 L99.09,120.26 L99.33,120.26 L99.57,120.26 L99.81,120.26 L100.05,120.26 L100.29,120.26 L100.53,120.26 L100.77,120.26 L101.01,120.26 L101.25,120.27 L101.49,120.27 L101.73,120.27 L101.97,120.27 L102.21,120.27 L102.45,120.27 L102.69,120.27 L102.93,120.27 L103.16,120.28 L103.40,120.28 L103.64,120.28 L103.88,120.28 L104.12,120.28 L104.36,120.28 L104.60,120.28 L104.84,120.28 L105.08,120.29 L105.32,120.29 L105.56,120.29 L105.80,120.29 L106.04,120.29 L106.28,120.29 L106.52,120.29 L106.76,120.30 L107.00,120.30 L107.24,120.30 L107.48,120.30 L107.72,120.30 L107.96,120.30 L108.20,120.30 L108.44,120.31 L108.68,120.31 L108.92,120.31 L109.16,120.31 L109.40,120.31 L109.64,120.31 L109.88,120.32 L110.12,120.32 L110.36,120.32 L110.59,120.32 L110.83,120.32 L111.07,120.32 L111.31,120.33 L111.55,120.33 L111.79,120.33 L112.03,120.33 L112.27,120.33 L112.51,120.34 L112.75,120.34 L112.99,120.34 L113.23,120.34 L113.47,120.34 L113.71,120.35 L113.95,120.35 L114.19,120.35 L114.43,120.35 L114.67,120.36 L114.91,120.36 L115.15,120.36 L115.39,120.36 L115.63,120.37 L115.87,120.37 L116.11,120.37 L116.35,120.37 L116.59,120.38 L116.83,120.38 L117.07,120.38 L117.31,120.39 L117.55,120.39 L117.79,120.39 L118.03,120.40 L118.26,120.40 L118.50,120.40 L118.74,120.41 L118.98,120.41 L119.22,120.41 L119.46,120.42 L119.70,120.42 L119.94,120.42 L120.18,120.43 L120.42,120.43 L120.66,120.43 L120.90,120.44 L121.14,120.44 L121.38,120.45 L121.62,120.45 L121.86,120.45 L122.10,120.46 L122.34,120.46 L122.58,120.47 L122.82,120.47 L123.06,120.48 L123.30,120.48 L123.54,120.49 L123.78,120.49 L124.02,120.50 L124.26,120.50 L124.50,120.51 L124.74,120.51 L124.98,120.52 L125.22,120.53 L125.46,120.54 L125.69,120.54 L125.93,120.55 L126.17,120.56 L126.41,120.57 L126.65,120.58 L126.89,120.58 L127.13,120.59 L127.37,120.60 L127.61,120.61 L127.85,120.62 L128.09,120.63 L128.33,120.64 L128.57,120.65 L128.81,120.66 L129.05,120.67 L129.29,120.68 L129.53,120.69 L129.77,120.70 L130.01,120.72 L130.25,120.73 L130.49,120.74 L130.73,120.75 L130.97,120.76 L131.21,120.77 L131.45,120.78 L131.69,120.80 L131.93,120.81 L132.17,120.82 L132.41,120.83 L132.65,120.85 L132.89,120.86 L133.12,120.87 L133.36,120.89 L133.60,120.90 L133.84,120.92 L134.08,120.93 L134.32,120.95 L134.56,120.96 L134.80,120.98 L135.04,121.00 L135.28,121.01 L135.52,121.03 L135.76,121.05 L136.00,121.07 L136.24,121.09 L136.48,121.11 L136.72,121.13 L136.96,121.15 L137.20,121.17 L137.44,121.19 L137.68,121.21 L137.92,121.23 L138.16,121.25 L138.40,121.28 L138.64,121.30 L138.88,121.32 L139.12,121.35 L139.36,121.37 L139.60,121.40 L139.84,121.42 L140.08,121.45 L140.32,121.47 L140.55,121.50 L140.79,121.52 L141.03,121.55 L141.27,121.58 L141.51,121.61 L141.75,121.63 L141.99,121.66 L142.23,121.69 L142.47,121.72 L142.71,121.75 L142.95,121.78 L143.19,121.81 L143.43,121.84 L143.67,121.86 L143.91,121.89 L144.15,121.92 L144.39,121.95 L144.63,121.98 L144.87,122.01 L145.11,122.04 L145.35,122.07 L145.59,122.11 L145.83,122.14 L146.07,122.17 L146.31,122.20 L146.55,122.24 L146.79,122.27 L147.03,122.30 L147.27,122.34 L147.51,122.37 L147.75,122.41 L147.98,122.45 L148.22,122.48 L148.46,122.52 L148.70,122.56 L148.94,122.60 L149.18,122.63 L149.42,122.67 L149.66,122.71 L149.90,122.75 L150.14,122.79 L150.38,122.83 L150.62,122.88 L150.86,122.92 L151.10,122.96 L151.34,123.00 L151.58,123.05 L151.82,123.09 L152.06,123.14 L152.30,123.18 L152.54,123.23 L152.78,123.28 L153.02,123.33 L153.26,123.37 L153.50,123.42 L153.74,123.48 L153.98,123.53 L154.22,123.58 L154.46,123.63 L154.70,123.68 L154.94,123.74 L155.18,123.79 L155.42,123.85 L155.65,123.90 L155.89,123.95 L156.13,124.01 L156.37,124.06 L156.61,124.12 L156.85,124.17 L157.09,124.23 L157.33,124.28 L157.57,124.34 L157.81,124.39 L158.05,124.45 L158.29,124.51 L158.53,124.57 L158.77,124.62 L159.01,124.69 L159.25,124.75 L159.49,124.81 L159.73,124.87 L159.97,124.94 L160.21,125.00 L160.45,125.07 L160.69,125.13 L160.93,125.20 L161.17,125.27 L161.41,125.33 L161.65,125.40 L161.89,125.47 L162.13,125.54 L162.37,125.61 L162.61,125.68 L162.85,125.75 L163.08,125.82 L163.32,125.89 L163.56,125.96 L163.80,126.04 L164.04,126.11 L164.28,126.18 L164.52,126.25 L164.76,126.33 L165.00,126.40 L165.24,126.47 L165.48,126.55 L165.72,126.62 L165.96,126.69 L166.20,126.76 L166.44,126.83 L166.68,126.90 L166.92,126.97 L167.16,127.05 L167.40,127.12 L167.64,127.19 L167.88,127.26 L168.12,127.34 L168.36,127.41 L168.60,127.49 L168.84,127.57 L169.08,127.65 L169.32,127.73 L169.56,127.81 L169.80,127.89 L170.04,127.97 L170.28,128.06 L170.51,128.15 L170.75,128.24 L170.99,128.34 L171.23,128.43 L171.47,128.53 L171.71,128.63 L171.95,128.74 L172.19,128.86 L172.43,128.98 L172.67,129.10 L172.91,129.23 L173.15,129.36 L173.39,129.49 L173.63,129.62 L173.87,129.76 L174.11,129.89 L174.35,130.03 L174.59,130.17 L174.83,130.30 L175.07,130.44 L175.31,130.57 L175.55,130.71 L175.79,130.84 L176.03,130.98 L176.27,131.11 L176.51,131.25 L176.75,131.38 L176.99,131.52 L177.23,131.66 L177.47,131.80 L177.71,131.94 L177.94,132.09 L178.18,132.23 L178.42,132.38 L178.66,132.53 L178.90,132.68 L179.14,132.84 L179.38,133.00 L179.62,133.16 L179.86,133.33 L180.10,133.50 L180.34,133.68 L180.58,133.86 L180.82,134.05 L181.06,134.24 L181.30,134.44 L181.54,134.64 L181.78,134.85 L182.02,135.06 L182.26,135.27 L182.50,135.49 L182.74,135.71 L182.98,135.93 L183.22,136.16 L183.46,136.38 L183.70,136.60 L183.94,136.83 L184.18,137.06 L184.42,137.28 L184.66,137.51 L184.90,137.73 L185.14,137.95 L185.37,138.17 L185.61,138.39 L185.85,138.61 L186.09,138.83 L186.33,139.05 L186.57,139.28 L186.81,139.50 L187.05,139.72 L187.29,139.95 L187.53,140.17 L187.77,140.40 L188.01,140.63 L188.25,140.86 L188.49,141.08 L188.73,141.31 L188.97,141.54 L189.21,141.77 L189.45,142.00 L189.69,142.22 L189.93,142.45 L190.17,142.68 L190.41,142.91 L190.65,143.14 L190.89,143.37 L191.13,143.60 L191.37,143.83 L191.61,144.06 L191.85,144.30 L192.09,144.53 L192.33,144.77 L192.57,145.00 L192.81,145.24 L193.04,145.47 L193.28,145.70 L193.52,145.94 L193.76,146.17 L194.00,146.40 L194.24,146.63 L194.48,146.85 L194.72,147.08 L194.96,147.30 L195.20,147.53 L195.44,147.75 L195.68,147.96 L195.92,148.18 L196.16,148.40 L196.40,148.62 L196.64,148.84 L196.88,149.06 L197.12,149.28 L197.36,149.50 L197.60,149.71 L197.84,149.93 L198.08,150.14 L198.32,150.35 L198.56,150.56 L198.80,150.76 L199.04,150.97 L199.28,151.16 L199.52,151.36 L199.76,151.55 L200.00,151.74 L200.24,151.93 L200.47,152.11 L200.71,152.28 L200.95,152.46 L201.19,152.63 L201.43,152.80 L201.67,152.97 L201.91,153.13 L202.15,153.30 L202.39,153.46 L202.63,153.62 L202.87,153.78 L203.11,153.93 L203.35,154.08 L203.59,154.23 L203.83,154.38 L204.07,154.53 L204.31,154.67 L204.55,154.81 L204.79,154.95 L205.03,155.08 L205.27,155.22 L205.51,155.35 L205.75,155.47 L205.99,155.60 L206.23,155.72 L206.47,155.84 L206.71,155.96 L206.95,156.08 L207.19,156.20 L207.43,156.31 L207.67,156.43 L207.90,156.54 L208.14,156.65 L208.38,156.76 L208.62,156.87 L208.86,156.98 L209.10,157.08 L209.34,157.18 L209.58,157.28 L209.82,157.38 L210.06,157.47 L210.30,157.57 L210.54,157.66 L210.78,157.75 L211.02,157.83 L211.26,157.92 L211.50,158.00" fill="none" stroke="#00f" stroke-width="1.3"/>
<rect x="64.6" y="29.6" width="250.50000000000003" height="156.5" fill="none" stroke="#000" stroke-width="1.5"/>
<path d="M81.21,29.6 v3.2 M81.21,186.1 v-3.2" stroke="#000" stroke-width="1.2"/>
<path d="M93.78,29.6 v3.2 M93.78,186.1 v-3.2" stroke="#000" stroke-width="1.2"/>
<path d="M101.13,29.6 v3.2 M101.13,186.1 v-3.2" stroke="#000" stroke-width="1.2"/>
<path d="M106.35,29.6 v5.4 M106.35,186.1 v-5.4" stroke="#000" stroke-width="1.3"/>
<path d="M122.96,29.6 v3.2 M122.96,186.1 v-3.2" stroke="#000" stroke-width="1.2"/>
<path d="M135.53,29.6 v3.2 M135.53,186.1 v-3.2" stroke="#000" stroke-width="1.2"/>
<path d="M142.88,29.6 v3.2 M142.88,186.1 v-3.2" stroke="#000" stroke-width="1.2"/>
<path d="M148.10,29.6 v5.4 M148.10,186.1 v-5.4" stroke="#000" stroke-width="1.3"/>
<path d="M164.71,29.6 v3.2 M164.71,186.1 v-3.2" stroke="#000" stroke-width="1.2"/>
<path d="M177.28,29.6 v3.2 M177.28,186.1 v-3.2" stroke="#000" stroke-width="1.2"/>
<path d="M184.63,29.6 v3.2 M184.63,186.1 v-3.2" stroke="#000" stroke-width="1.2"/>
<path d="M189.85,29.6 v5.4 M189.85,186.1 v-5.4" stroke="#000" stroke-width="1.3"/>
<path d="M206.46,29.6 v3.2 M206.46,186.1 v-3.2" stroke="#000" stroke-width="1.2"/>
<path d="M219.03,29.6 v3.2 M219.03,186.1 v-3.2" stroke="#000" stroke-width="1.2"/>
<path d="M226.38,29.6 v3.2 M226.38,186.1 v-3.2" stroke="#000" stroke-width="1.2"/>
<path d="M231.60,29.6 v5.4 M231.60,186.1 v-5.4" stroke="#000" stroke-width="1.3"/>
<path d="M248.21,29.6 v3.2 M248.21,186.1 v-3.2" stroke="#000" stroke-width="1.2"/>
<path d="M260.78,29.6 v3.2 M260.78,186.1 v-3.2" stroke="#000" stroke-width="1.2"/>
<path d="M268.13,29.6 v3.2 M268.13,186.1 v-3.2" stroke="#000" stroke-width="1.2"/>
<path d="M273.35,29.6 v5.4 M273.35,186.1 v-5.4" stroke="#000" stroke-width="1.3"/>
<path d="M289.96,29.6 v3.2 M289.96,186.1 v-3.2" stroke="#000" stroke-width="1.2"/>
<path d="M302.53,29.6 v3.2 M302.53,186.1 v-3.2" stroke="#000" stroke-width="1.2"/>
<path d="M309.88,29.6 v3.2 M309.88,186.1 v-3.2" stroke="#000" stroke-width="1.2"/>
<path d="M64.6,144.40 h5.4 M315.1,144.40 h-5.4" stroke="#000" stroke-width="1.3"/>
<path d="M64.6,102.70 h5.4 M315.1,102.70 h-5.4" stroke="#000" stroke-width="1.3"/>
<path d="M64.6,61.00 h5.4 M315.1,61.00 h-5.4" stroke="#000" stroke-width="1.3"/>
<path d="M64.6,165.25 h3.2 M315.1,165.25 h-3.2" stroke="#000" stroke-width="1.2"/>
<path d="M64.6,123.55 h3.2 M315.1,123.55 h-3.2" stroke="#000" stroke-width="1.2"/>
<path d="M64.6,81.85 h3.2 M315.1,81.85 h-3.2" stroke="#000" stroke-width="1.2"/>
<path d="M64.6,40.15 h3.2 M315.1,40.15 h-3.2" stroke="#000" stroke-width="1.2"/>
<circle cx="250.7" cy="42.4" r="1.9" fill="#f00"/>
<circle cx="250.7" cy="65.5" r="1.9" fill="#00f"/>
<g clip-path="url(#c2)">
<path d="M64.60,253.30 L65.44,253.30 L66.28,253.30 L67.11,253.30 L67.95,253.31 L68.79,253.31 L69.63,253.31 L70.46,253.32 L71.30,253.32 L72.14,253.32 L72.98,253.33 L73.82,253.33 L74.65,253.34 L75.49,253.34 L76.33,253.35 L77.17,253.36 L78.00,253.36 L78.84,253.37 L79.68,253.38 L80.52,253.38 L81.36,253.39 L82.19,253.40 L83.03,253.41 L83.87,253.42 L84.71,253.42 L85.54,253.43 L86.38,253.44 L87.22,253.45 L88.06,253.46 L88.90,253.47 L89.73,253.48 L90.57,253.49 L91.41,253.50 L92.25,253.51 L93.08,253.52 L93.92,253.53 L94.76,253.54 L95.60,253.55 L96.44,253.56 L97.27,253.57 L98.11,253.58 L98.95,253.59 L99.79,253.60 L100.63,253.61 L101.46,253.62 L102.30,253.63 L103.14,253.64 L103.98,253.66 L104.81,253.67 L105.65,253.68 L106.49,253.70 L107.33,253.71 L108.17,253.73 L109.00,253.74 L109.84,253.76 L110.68,253.78 L111.52,253.80 L112.35,253.81 L113.19,253.83 L114.03,253.85 L114.87,253.87 L115.71,253.89 L116.54,253.91 L117.38,253.93 L118.22,253.95 L119.06,253.98 L119.89,254.00 L120.73,254.02 L121.57,254.04 L122.41,254.07 L123.25,254.09 L124.08,254.12 L124.92,254.14 L125.76,254.17 L126.60,254.20 L127.43,254.23 L128.27,254.26 L129.11,254.29 L129.95,254.32 L130.79,254.35 L131.62,254.39 L132.46,254.42 L133.30,254.46 L134.14,254.50 L134.97,254.54 L135.81,254.58 L136.65,254.62 L137.49,254.66 L138.33,254.71 L139.16,254.75 L140.00,254.80 L140.84,254.85 L141.68,254.90 L142.51,254.96 L143.35,255.02 L144.19,255.08 L145.03,255.15 L145.87,255.22 L146.70,255.30 L147.54,255.37 L148.38,255.45 L149.22,255.53 L150.05,255.62 L150.89,255.71 L151.73,255.80 L152.57,255.89 L153.41,255.98 L154.24,256.08 L155.08,256.18 L155.92,256.28 L156.76,256.38 L157.59,256.49 L158.43,256.60 L159.27,256.70 L160.11,256.81 L160.95,256.93 L161.78,257.05 L162.62,257.18 L163.46,257.31 L164.30,257.44 L165.14,257.59 L165.97,257.73 L166.81,257.88 L167.65,258.04 L168.49,258.20 L169.32,258.37 L170.16,258.53 L171.00,258.71 L171.84,258.88 L172.68,259.06 L173.51,259.24 L174.35,259.43 L175.19,259.62 L176.03,259.81 L176.86,260.00 L177.70,260.21 L178.54,260.43 L179.38,260.66 L180.22,260.89 L181.05,261.13 L181.89,261.38 L182.73,261.62 L183.57,261.87 L184.40,262.12 L185.24,262.37 L186.08,262.62 L186.92,262.87 L187.76,263.13 L188.59,263.38 L189.43,263.64 L190.27,263.90 L191.11,264.17 L191.94,264.44 L192.78,264.71 L193.62,264.98 L194.46,265.26 L195.30,265.55 L196.13,265.84 L196.97,266.13 L197.81,266.43 L198.65,266.74 L199.48,267.05 L200.32,267.37 L201.16,267.70 L202.00,268.03 L202.84,268.36 L203.67,268.70 L204.51,269.05 L205.35,269.40 L206.19,269.76 L207.02,270.13 L207.86,270.50 L208.70,270.88 L209.54,271.26 L210.38,271.65 L211.21,272.04 L212.05,272.44 L212.89,272.85 L213.73,273.26 L214.56,273.68 L215.40,274.11 L216.24,274.54 L217.08,274.99 L217.92,275.44 L218.75,275.90 L219.59,276.38 L220.43,276.86 L221.27,277.36 L222.11,277.86 L222.94,278.38 L223.78,278.92 L224.62,279.48 L225.46,280.08 L226.29,280.71 L227.13,281.36 L227.97,282.01 L228.81,282.67 L229.65,283.33 L230.48,283.97 L231.32,284.61 L232.16,285.25 L233.00,285.89 L233.83,286.54 L234.67,287.20 L235.51,287.87 L236.35,288.56 L237.19,289.26 L238.02,289.98 L238.86,290.72 L239.70,291.47 L240.54,292.22 L241.37,292.99 L242.21,293.76 L243.05,294.54 L243.89,295.32 L244.73,296.11 L245.56,296.91 L246.40,297.72 L247.24,298.54 L248.08,299.37 L248.91,300.21 L249.75,301.06 L250.59,301.93 L251.43,302.80 L252.27,303.69 L253.10,304.59 L253.94,305.51 L254.78,306.45 L255.62,307.40 L256.45,308.38 L257.29,309.39 L258.13,310.42 L258.97,311.47 L259.81,312.53 L260.64,313.60 L261.48,314.68 L262.32,315.75 L263.16,316.84 L263.99,317.93 L264.83,319.04 L265.67,320.15 L266.51,321.27 L267.35,322.39 L268.18,323.51 L269.02,324.62 L269.86,325.73 L270.70,326.84 L271.53,327.96 L272.37,329.08 L273.21,330.19 L274.05,331.30 L274.89,332.41 L275.72,333.51 L276.56,334.60 L277.40,335.69 L278.24,336.78 L279.07,337.86 L279.91,338.95 L280.75,340.04 L281.59,341.14 L282.43,342.25 L283.26,343.38 L284.10,344.52 L284.94,345.67 L285.78,346.83 L286.62,347.99 L287.45,349.15 L288.29,350.31 L289.13,351.46 L289.97,352.60 L290.80,353.76 L291.64,354.92 L292.48,356.07 L293.32,357.21 L294.16,358.32 L294.99,359.39 L295.83,360.41 L296.67,361.40 L297.51,362.37 L298.34,363.31 L299.18,364.23 L300.02,365.12 L300.86,365.98 L301.70,366.82 L302.53,367.61 L303.37,368.39 L304.21,369.14 L305.05,369.87 L305.88,370.57 L306.72,371.25 L307.56,371.91 L308.40,372.55 L309.24,373.17 L310.07,373.77 L310.91,374.35 L311.75,374.92 L312.59,375.47 L313.42,376.00 L314.26,376.51 L315.10,377.00" fill="none" stroke="#f00" stroke-width="2.2"/>
<circle cx="139.75" cy="254.60" r="1.9" fill="#f00"/>
<circle cx="143.93" cy="254.90" r="1.9" fill="#f00"/>
<circle cx="148.10" cy="255.40" r="1.9" fill="#f00"/>
<circle cx="152.28" cy="256.00" r="1.9" fill="#f00"/>
<circle cx="156.45" cy="256.40" r="1.9" fill="#f00"/>
<circle cx="160.62" cy="257.70" r="1.9" fill="#f00"/>
<circle cx="164.80" cy="257.70" r="1.9" fill="#f00"/>
<circle cx="168.97" cy="256.20" r="1.9" fill="#f00"/>
<circle cx="173.15" cy="259.20" r="1.9" fill="#f00"/>
<circle cx="177.32" cy="259.70" r="1.9" fill="#f00"/>
<circle cx="181.50" cy="260.00" r="1.9" fill="#f00"/>
<circle cx="185.68" cy="260.60" r="1.9" fill="#f00"/>
<circle cx="189.85" cy="261.20" r="1.9" fill="#f00"/>
<circle cx="194.03" cy="263.20" r="1.9" fill="#f00"/>
<circle cx="198.20" cy="265.10" r="1.9" fill="#f00"/>
<circle cx="202.38" cy="266.40" r="1.9" fill="#f00"/>
<circle cx="206.55" cy="268.10" r="1.9" fill="#f00"/>
<circle cx="210.72" cy="270.20" r="1.9" fill="#f00"/>
<circle cx="214.90" cy="271.50" r="1.9" fill="#f00"/>
<circle cx="219.08" cy="274.10" r="1.9" fill="#f00"/>
<circle cx="223.25" cy="275.40" r="1.9" fill="#f00"/>
<circle cx="227.43" cy="278.60" r="1.9" fill="#f00"/>
<circle cx="231.60" cy="281.30" r="1.9" fill="#f00"/>
<circle cx="235.78" cy="285.90" r="1.9" fill="#f00"/>
<circle cx="239.95" cy="290.20" r="1.9" fill="#f00"/>
<circle cx="244.12" cy="292.40" r="1.9" fill="#f00"/>
<circle cx="248.30" cy="296.90" r="1.9" fill="#f00"/>
<circle cx="252.48" cy="301.80" r="1.9" fill="#f00"/>
<circle cx="256.65" cy="306.30" r="1.9" fill="#f00"/>
<circle cx="260.82" cy="312.30" r="1.9" fill="#f00"/>
<circle cx="265.00" cy="316.80" r="1.9" fill="#f00"/>
<circle cx="269.18" cy="321.60" r="1.9" fill="#f00"/>
<circle cx="273.35" cy="327.80" r="1.9" fill="#f00"/>
<circle cx="277.53" cy="332.50" r="1.9" fill="#f00"/>
<circle cx="281.70" cy="339.70" r="1.9" fill="#f00"/>
<circle cx="285.88" cy="344.20" r="1.9" fill="#f00"/>
<circle cx="290.05" cy="350.60" r="1.9" fill="#f00"/>
<circle cx="294.23" cy="357.00" r="1.9" fill="#f00"/>
<circle cx="298.40" cy="362.20" r="1.9" fill="#f00"/>
<circle cx="302.58" cy="367.30" r="1.9" fill="#f00"/>
<circle cx="306.75" cy="371.40" r="1.9" fill="#f00"/>
<circle cx="310.93" cy="374.40" r="1.9" fill="#f00"/>
<circle cx="315.10" cy="376.60" r="1.9" fill="#f00"/>
<path d="M64.60,253.80 L65.44,253.80 L66.28,253.80 L67.11,253.80 L67.95,253.80 L68.79,253.81 L69.63,253.81 L70.46,253.81 L71.30,253.82 L72.14,253.82 L72.98,253.83 L73.82,253.84 L74.65,253.84 L75.49,253.85 L76.33,253.86 L77.17,253.86 L78.00,253.87 L78.84,253.88 L79.68,253.89 L80.52,253.90 L81.36,253.91 L82.19,253.92 L83.03,253.93 L83.87,253.94 L84.71,253.95 L85.54,253.96 L86.38,253.98 L87.22,253.99 L88.06,254.00 L88.90,254.01 L89.73,254.03 L90.57,254.04 L91.41,254.05 L92.25,254.07 L93.08,254.08 L93.92,254.09 L94.76,254.11 L95.60,254.12 L96.44,254.14 L97.27,254.15 L98.11,254.17 L98.95,254.18 L99.79,254.20 L100.63,254.21 L101.46,254.23 L102.30,254.25 L103.14,254.27 L103.98,254.29 L104.81,254.31 L105.65,254.34 L106.49,254.37 L107.33,254.39 L108.17,254.42 L109.00,254.45 L109.84,254.48 L110.68,254.51 L111.52,254.55 L112.35,254.58 L113.19,254.61 L114.03,254.65 L114.87,254.68 L115.71,254.72 L116.54,254.75 L117.38,254.79 L118.22,254.82 L119.06,254.86 L119.89,254.90 L120.73,254.93 L121.57,254.97 L122.41,255.00 L123.25,255.04 L124.08,255.08 L124.92,255.12 L125.76,255.15 L126.60,255.19 L127.43,255.23 L128.27,255.28 L129.11,255.32 L129.95,255.36 L130.79,255.41 L131.62,255.45 L132.46,255.50 L133.30,255.55 L134.14,255.60 L134.97,255.65 L135.81,255.70 L136.65,255.76 L137.49,255.82 L138.33,255.88 L139.16,255.94 L140.00,256.00 L140.84,256.07 L141.68,256.14 L142.51,256.22 L143.35,256.30 L144.19,256.38 L145.03,256.47 L145.87,256.57 L146.70,256.67 L147.54,256.77 L148.38,256.87 L149.22,256.98 L150.05,257.09 L150.89,257.21 L151.73,257.33 L152.57,257.45 L153.41,257.57 L154.24,257.69 L155.08,257.82 L155.92,257.95 L156.76,258.08 L157.59,258.21 L158.43,258.35 L159.27,258.48 L160.11,258.62 L160.95,258.75 L161.78,258.89 L162.62,259.03 L163.46,259.18 L164.30,259.32 L165.14,259.47 L165.97,259.63 L166.81,259.79 L167.65,259.95 L168.49,260.12 L169.32,260.30 L170.16,260.48 L171.00,260.67 L171.84,260.87 L172.68,261.08 L173.51,261.30 L174.35,261.52 L175.19,261.76 L176.03,262.01 L176.86,262.29 L177.70,262.62 L178.54,262.99 L179.38,263.39 L180.22,263.81 L181.05,264.24 L181.89,264.68 L182.73,265.12 L183.57,265.54 L184.40,265.93 L185.24,266.30 L186.08,266.65 L186.92,266.99 L187.76,267.32 L188.59,267.64 L189.43,267.96 L190.27,268.27 L191.11,268.58 L191.94,268.89 L192.78,269.20 L193.62,269.52 L194.46,269.85 L195.30,270.18 L196.13,270.53 L196.97,270.89 L197.81,271.27 L198.65,271.66 L199.48,272.06 L200.32,272.48 L201.16,272.90 L202.00,273.34 L202.84,273.79 L203.67,274.24 L204.51,274.71 L205.35,275.19 L206.19,275.67 L207.02,276.16 L207.86,276.66 L208.70,277.16 L209.54,277.68 L210.38,278.20 L211.21,278.72 L212.05,279.26 L212.89,279.80 L213.73,280.35 L214.56,280.90 L215.40,281.47 L216.24,282.05 L217.08,282.64 L217.92,283.25 L218.75,283.86 L219.59,284.49 L220.43,285.13 L221.27,285.79 L222.11,286.46 L222.94,287.15 L223.78,287.85 L224.62,288.60 L225.46,289.39 L226.29,290.22 L227.13,291.07 L227.97,291.93 L228.81,292.79 L229.65,293.64 L230.48,294.48 L231.32,295.31 L232.16,296.14 L233.00,296.97 L233.83,297.81 L234.67,298.67 L235.51,299.54 L236.35,300.44 L237.19,301.37 L238.02,302.32 L238.86,303.30 L239.70,304.29 L240.54,305.30 L241.37,306.32 L242.21,307.35 L243.05,308.39 L243.89,309.44 L244.73,310.51 L245.56,311.60 L246.40,312.70 L247.24,313.80 L248.08,314.90 L248.91,316.00 L249.75,317.09 L250.59,318.17 L251.43,319.26 L252.27,320.35 L253.10,321.43 L253.94,322.52 L254.78,323.61 L255.62,324.69 L256.45,325.78 L257.29,326.86 L258.13,327.95 L258.97,329.03 L259.81,330.12 L260.64,331.21 L261.48,332.30 L262.32,333.39 L263.16,334.48 L263.99,335.59 L264.83,336.69 L265.67,337.79 L266.51,338.90 L267.35,339.99 L268.18,341.08 L269.02,342.16 L269.86,343.23 L270.70,344.29 L271.53,345.35 L272.37,346.41 L273.21,347.46 L274.05,348.51 L274.89,349.56 L275.72,350.61 L276.56,351.66 L277.40,352.71 L278.24,353.75 L279.07,354.80 L279.91,355.84 L280.75,356.88 L281.59,357.91 L282.43,358.94 L283.26,359.96 L284.10,360.99 L284.94,362.03 L285.78,363.06 L286.62,364.08 L287.45,365.08 L288.29,366.05 L289.13,366.99 L289.97,367.89 L290.80,368.78 L291.64,369.65 L292.48,370.51 L293.32,371.33 L294.16,372.13 L294.99,372.89 L295.83,373.61 L296.67,374.31 L297.51,374.98 L298.34,375.64 L299.18,376.27 L300.02,376.87 L300.86,377.44 L301.70,377.99 L302.53,378.50 L303.37,378.99 L304.21,379.46 L305.05,379.91 L305.88,380.34 L306.72,380.75 L307.56,381.14 L308.40,381.51 L309.24,381.87 L310.07,382.22 L310.91,382.55 L311.75,382.87 L312.59,383.18 L313.42,383.47 L314.26,383.74 L315.10,384.00" fill="none" stroke="#00f" stroke-width="2.2"/>
<circle cx="152.28" cy="258.80" r="1.9" fill="#00f"/>
<circle cx="156.45" cy="260.80" r="1.9" fill="#00f"/>
<circle cx="160.62" cy="259.20" r="1.9" fill="#00f"/>
<circle cx="164.80" cy="260.80" r="1.9" fill="#00f"/>
<circle cx="168.97" cy="260.30" r="1.9" fill="#00f"/>
<circle cx="173.15" cy="260.80" r="1.9" fill="#00f"/>
<circle cx="177.32" cy="263.40" r="1.9" fill="#00f"/>
<circle cx="181.50" cy="263.80" r="1.9" fill="#00f"/>
<circle cx="185.68" cy="266.20" r="1.9" fill="#00f"/>
<circle cx="189.85" cy="267.70" r="1.9" fill="#00f"/>
<circle cx="194.03" cy="267.70" r="1.9" fill="#00f"/>
<circle cx="198.20" cy="270.90" r="1.9" fill="#00f"/>
<circle cx="202.38" cy="270.90" r="1.9" fill="#00f"/>
<circle cx="206.55" cy="274.10" r="1.9" fill="#00f"/>
<circle cx="210.72" cy="278.00" r="1.9" fill="#00f"/>
<circle cx="214.90" cy="281.20" r="1.9" fill="#00f"/>
<circle cx="219.08" cy="282.50" r="1.9" fill="#00f"/>
<circle cx="223.25" cy="285.70" r="1.9" fill="#00f"/>
<circle cx="227.43" cy="288.30" r="1.9" fill="#00f"/>
<circle cx="231.60" cy="293.50" r="1.9" fill="#00f"/>
<circle cx="235.78" cy="296.20" r="1.9" fill="#00f"/>
<circle cx="239.95" cy="302.30" r="1.9" fill="#00f"/>
<circle cx="244.12" cy="306.50" r="1.9" fill="#00f"/>
<circle cx="248.30" cy="312.30" r="1.9" fill="#00f"/>
<circle cx="252.48" cy="316.80" r="1.9" fill="#00f"/>
<circle cx="256.65" cy="322.60" r="1.9" fill="#00f"/>
<circle cx="260.82" cy="327.80" r="1.9" fill="#00f"/>
<circle cx="265.00" cy="334.80" r="1.9" fill="#00f"/>
<circle cx="269.18" cy="340.50" r="1.9" fill="#00f"/>
<circle cx="273.35" cy="344.80" r="1.9" fill="#00f"/>
<circle cx="277.53" cy="351.20" r="1.9" fill="#00f"/>
<circle cx="281.70" cy="357.00" r="1.9" fill="#00f"/>
<circle cx="285.88" cy="362.80" r="1.9" fill="#00f"/>
<circle cx="290.05" cy="367.60" r="1.9" fill="#00f"/>
<circle cx="294.23" cy="371.80" r="1.9" fill="#00f"/>
<circle cx="298.40" cy="375.30" r="1.9" fill="#00f"/>
<circle cx="302.58" cy="378.50" r="1.9" fill="#00f"/>
<circle cx="306.75" cy="381.20" r="1.9" fill="#00f"/>
<circle cx="310.93" cy="383.00" r="1.9" fill="#00f"/>
<circle cx="315.10" cy="384.30" r="1.9" fill="#00f"/>
<path d="M64.6,252.5 H315.1" stroke="#000" stroke-width="0.85"/>
</g>
<rect x="92.1" y="297.2" width="120.4" height="77.90000000000003" fill="#fff" stroke="none"/>
<rect x="92.1" y="297.2" width="120.4" height="77.90000000000003" fill="none" stroke="#383838" stroke-width="0.65"/>
<path d="M92.1,364.10 h1.5 M212.5,364.10 h-1.5" stroke="#222" stroke-width="0.7"/>
<path d="M92.1,352.90 h1.5 M212.5,352.90 h-1.5" stroke="#222" stroke-width="0.7"/>
<path d="M92.1,341.70 h1.5 M212.5,341.70 h-1.5" stroke="#222" stroke-width="0.7"/>
<path d="M92.1,330.50 h1.5 M212.5,330.50 h-1.5" stroke="#222" stroke-width="0.7"/>
<path d="M92.1,319.30 h1.5 M212.5,319.30 h-1.5" stroke="#222" stroke-width="0.7"/>
<path d="M92.1,308.10 h1.5 M212.5,308.10 h-1.5" stroke="#222" stroke-width="0.7"/>
<path d="M106.13,297.2 v1.2 M106.13,375.1 v-1.2" stroke="#222" stroke-width="0.6"/>
<path d="M112.17,297.2 v1.6 M112.17,375.1 v-1.6" stroke="#222" stroke-width="0.7"/>
<path d="M126.19,297.2 v1.2 M126.19,375.1 v-1.2" stroke="#222" stroke-width="0.6"/>
<path d="M132.23,297.2 v1.6 M132.23,375.1 v-1.6" stroke="#222" stroke-width="0.7"/>
<path d="M146.26,297.2 v1.2 M146.26,375.1 v-1.2" stroke="#222" stroke-width="0.6"/>
<path d="M152.30,297.2 v1.6 M152.30,375.1 v-1.6" stroke="#222" stroke-width="0.7"/>
<path d="M166.33,297.2 v1.2 M166.33,375.1 v-1.2" stroke="#222" stroke-width="0.6"/>
<path d="M172.37,297.2 v1.6 M172.37,375.1 v-1.6" stroke="#222" stroke-width="0.7"/>
<path d="M186.39,297.2 v1.2 M186.39,375.1 v-1.2" stroke="#222" stroke-width="0.6"/>
<path d="M192.43,297.2 v1.6 M192.43,375.1 v-1.6" stroke="#222" stroke-width="0.7"/>
<path d="M206.46,297.2 v1.2 M206.46,375.1 v-1.2" stroke="#222" stroke-width="0.6"/>
<path d="M92.1,305.5 H212.5" stroke="#b4b4b4" stroke-width="0.75"/>
<path d="M92.1,315.0 H212.5" stroke="#c8c8c8" stroke-width="1.6"/>
<path d="M92.10,306.50 L92.50,306.50 L92.90,306.50 L93.30,306.50 L93.70,306.50 L94.10,306.50 L94.50,306.51 L94.90,306.51 L95.30,306.51 L95.70,306.51 L96.10,306.52 L96.50,306.52 L96.90,306.53 L97.30,306.53 L97.70,306.54 L98.09,306.54 L98.49,306.55 L98.89,306.55 L99.29,306.56 L99.69,306.56 L100.09,306.57 L100.49,306.58 L100.89,306.59 L101.29,306.59 L101.69,306.60 L102.09,306.61 L102.49,306.62 L102.89,306.63 L103.29,306.63 L103.69,306.64 L104.09,306.65 L104.49,306.66 L104.89,306.67 L105.29,306.68 L105.69,306.69 L106.09,306.70 L106.49,306.72 L106.89,306.73 L107.29,306.74 L107.69,306.75 L108.09,306.76 L108.49,306.77 L108.89,306.79 L109.29,306.80 L109.69,306.81 L110.08,306.82 L110.48,306.84 L110.88,306.85 L111.28,306.86 L111.68,306.88 L112.08,306.89 L112.48,306.91 L112.88,306.92 L113.28,306.94 L113.68,306.95 L114.08,306.96 L114.48,306.98 L114.88,306.99 L115.28,307.01 L115.68,307.03 L116.08,307.04 L116.48,307.06 L116.88,307.07 L117.28,307.09 L117.68,307.10 L118.08,307.12 L118.48,307.14 L118.88,307.15 L119.28,307.17 L119.68,307.19 L120.08,307.20 L120.48,307.22 L120.88,307.24 L121.28,307.26 L121.68,307.28 L122.07,307.30 L122.47,307.33 L122.87,307.35 L123.27,307.38 L123.67,307.41 L124.07,307.44 L124.47,307.47 L124.87,307.50 L125.27,307.53 L125.67,307.56 L126.07,307.60 L126.47,307.63 L126.87,307.67 L127.27,307.71 L127.67,307.74 L128.07,307.78 L128.47,307.82 L128.87,307.86 L129.27,307.91 L129.67,307.95 L130.07,307.99 L130.47,308.04 L130.87,308.08 L131.27,308.13 L131.67,308.18 L132.07,308.22 L132.47,308.27 L132.87,308.32 L133.27,308.37 L133.67,308.42 L134.06,308.47 L134.46,308.52 L134.86,308.58 L135.26,308.63 L135.66,308.68 L136.06,308.74 L136.46,308.79 L136.86,308.85 L137.26,308.90 L137.66,308.96 L138.06,309.02 L138.46,309.08 L138.86,309.13 L139.26,309.19 L139.66,309.25 L140.06,309.31 L140.46,309.37 L140.86,309.43 L141.26,309.50 L141.66,309.57 L142.06,309.64 L142.46,309.71 L142.86,309.79 L143.26,309.86 L143.66,309.95 L144.06,310.03 L144.46,310.11 L144.86,310.20 L145.26,310.29 L145.66,310.38 L146.05,310.47 L146.45,310.57 L146.85,310.67 L147.25,310.77 L147.65,310.87 L148.05,310.97 L148.45,311.08 L148.85,311.18 L149.25,311.29 L149.65,311.40 L150.05,311.51 L150.45,311.63 L150.85,311.75 L151.25,311.87 L151.65,312.00 L152.05,312.13 L152.45,312.26 L152.85,312.40 L153.25,312.54 L153.65,312.68 L154.05,312.83 L154.45,312.98 L154.85,313.14 L155.25,313.30 L155.65,313.46 L156.05,313.63 L156.45,313.79 L156.85,313.97 L157.25,314.14 L157.65,314.32 L158.04,314.50 L158.44,314.69 L158.84,314.88 L159.24,315.07 L159.64,315.27 L160.04,315.47 L160.44,315.67 L160.84,315.89 L161.24,316.11 L161.64,316.34 L162.04,316.57 L162.44,316.82 L162.84,317.07 L163.24,317.33 L163.64,317.60 L164.04,317.87 L164.44,318.15 L164.84,318.43 L165.24,318.72 L165.64,319.02 L166.04,319.32 L166.44,319.62 L166.84,319.92 L167.24,320.23 L167.64,320.54 L168.04,320.85 L168.44,321.17 L168.84,321.48 L169.24,321.80 L169.64,322.12 L170.03,322.43 L170.43,322.75 L170.83,323.07 L171.23,323.39 L171.63,323.72 L172.03,324.05 L172.43,324.39 L172.83,324.73 L173.23,325.08 L173.63,325.43 L174.03,325.79 L174.43,326.14 L174.83,326.51 L175.23,326.87 L175.63,327.24 L176.03,327.60 L176.43,327.97 L176.83,328.35 L177.23,328.72 L177.63,329.09 L178.03,329.47 L178.43,329.84 L178.83,330.22 L179.23,330.59 L179.63,330.96 L180.03,331.34 L180.43,331.71 L180.83,332.08 L181.23,332.45 L181.63,332.82 L182.02,333.18 L182.42,333.55 L182.82,333.91 L183.22,334.29 L183.62,334.67 L184.02,335.05 L184.42,335.45 L184.82,335.85 L185.22,336.25 L185.62,336.66 L186.02,337.07 L186.42,337.49 L186.82,337.92 L187.22,338.34 L187.62,338.77 L188.02,339.19 L188.42,339.61 L188.82,340.03 L189.22,340.45 L189.62,340.86 L190.02,341.28 L190.42,341.68 L190.82,342.09 L191.22,342.49 L191.62,342.89 L192.02,343.28 L192.42,343.66 L192.82,344.05 L193.22,344.42 L193.62,344.79 L194.01,345.16 L194.41,345.52 L194.81,345.87 L195.21,346.22 L195.61,346.57 L196.01,346.92 L196.41,347.26 L196.81,347.61 L197.21,347.95 L197.61,348.30 L198.01,348.65 L198.41,349.01 L198.81,349.37 L199.21,349.73 L199.61,350.09 L200.01,350.44 L200.41,350.80 L200.81,351.16 L201.21,351.52 L201.61,351.87 L202.01,352.23 L202.41,352.58 L202.81,352.94 L203.21,353.28 L203.61,353.61 L204.01,353.93 L204.41,354.24 L204.81,354.54 L205.21,354.83 L205.61,355.11 L206.00,355.38 L206.40,355.64 L206.80,355.89 L207.20,356.13 L207.60,356.37 L208.00,356.59 L208.40,356.80 L208.80,357.01 L209.20,357.21 L209.60,357.40 L210.00,357.59 L210.40,357.76 L210.80,357.94 L211.20,358.10 L211.60,358.26" fill="none" stroke="#0e0" stroke-width="1.3"/>
<path d="M92.10,306.50 L92.50,306.50 L92.90,306.50 L93.30,306.50 L93.70,306.50 L94.09,306.51 L94.49,306.51 L94.89,306.51 L95.29,306.52 L95.69,306.52 L96.09,306.53 L96.49,306.54 L96.89,306.54 L97.29,306.55 L97.69,306.56 L98.08,306.57 L98.48,306.57 L98.88,306.58 L99.28,306.59 L99.68,306.60 L100.08,306.61 L100.48,306.63 L100.88,306.64 L101.28,306.65 L101.68,306.66 L102.07,306.67 L102.47,306.69 L102.87,306.70 L103.27,306.72 L103.67,306.73 L104.07,306.75 L104.47,306.76 L104.87,306.78 L105.27,306.79 L105.67,306.81 L106.06,306.83 L106.46,306.84 L106.86,306.86 L107.26,306.88 L107.66,306.90 L108.06,306.92 L108.46,306.94 L108.86,306.96 L109.26,306.98 L109.66,307.00 L110.05,307.02 L110.45,307.04 L110.85,307.06 L111.25,307.08 L111.65,307.10 L112.05,307.12 L112.45,307.14 L112.85,307.17 L113.25,307.19 L113.65,307.21 L114.04,307.24 L114.44,307.26 L114.84,307.28 L115.24,307.31 L115.64,307.33 L116.04,307.35 L116.44,307.38 L116.84,307.40 L117.24,307.43 L117.64,307.45 L118.03,307.48 L118.43,307.50 L118.83,307.53 L119.23,307.55 L119.63,307.58 L120.03,307.60 L120.43,307.63 L120.83,307.66 L121.23,307.69 L121.63,307.72 L122.02,307.75 L122.42,307.78 L122.82,307.82 L123.22,307.86 L123.62,307.90 L124.02,307.94 L124.42,307.98 L124.82,308.02 L125.22,308.06 L125.62,308.11 L126.01,308.16 L126.41,308.21 L126.81,308.25 L127.21,308.31 L127.61,308.36 L128.01,308.41 L128.41,308.47 L128.81,308.52 L129.21,308.58 L129.61,308.64 L130.00,308.70 L130.40,308.76 L130.80,308.82 L131.20,308.88 L131.60,308.94 L132.00,309.01 L132.40,309.07 L132.80,309.14 L133.20,309.21 L133.60,309.28 L133.99,309.35 L134.39,309.42 L134.79,309.49 L135.19,309.56 L135.59,309.64 L135.99,309.71 L136.39,309.79 L136.79,309.86 L137.19,309.94 L137.59,310.02 L137.98,310.09 L138.38,310.17 L138.78,310.25 L139.18,310.33 L139.58,310.41 L139.98,310.50 L140.38,310.58 L140.78,310.67 L141.18,310.76 L141.58,310.86 L141.97,310.96 L142.37,311.06 L142.77,311.17 L143.17,311.28 L143.57,311.40 L143.97,311.51 L144.37,311.63 L144.77,311.76 L145.17,311.88 L145.57,312.01 L145.96,312.15 L146.36,312.28 L146.76,312.42 L147.16,312.56 L147.56,312.70 L147.96,312.84 L148.36,312.99 L148.76,313.13 L149.16,313.28 L149.56,313.43 L149.95,313.58 L150.35,313.74 L150.75,313.89 L151.15,314.05 L151.55,314.22 L151.95,314.38 L152.35,314.55 L152.75,314.73 L153.15,314.91 L153.55,315.09 L153.94,315.27 L154.34,315.46 L154.74,315.65 L155.14,315.85 L155.54,316.05 L155.94,316.25 L156.34,316.45 L156.74,316.66 L157.14,316.88 L157.54,317.09 L157.93,317.32 L158.33,317.54 L158.73,317.77 L159.13,318.00 L159.53,318.24 L159.93,318.47 L160.33,318.72 L160.73,318.97 L161.13,319.22 L161.53,319.48 L161.92,319.75 L162.32,320.03 L162.72,320.31 L163.12,320.59 L163.52,320.89 L163.92,321.19 L164.32,321.49 L164.72,321.80 L165.12,322.12 L165.52,322.44 L165.91,322.77 L166.31,323.10 L166.71,323.44 L167.11,323.79 L167.51,324.14 L167.91,324.49 L168.31,324.85 L168.71,325.21 L169.11,325.58 L169.51,325.95 L169.90,326.33 L170.30,326.71 L170.70,327.10 L171.10,327.50 L171.50,327.92 L171.90,328.35 L172.30,328.79 L172.70,329.25 L173.10,329.72 L173.50,330.19 L173.89,330.68 L174.29,331.18 L174.69,331.68 L175.09,332.18 L175.49,332.70 L175.89,333.21 L176.29,333.73 L176.69,334.25 L177.09,334.77 L177.49,335.30 L177.88,335.81 L178.28,336.33 L178.68,336.85 L179.08,337.36 L179.48,337.86 L179.88,338.36 L180.28,338.85 L180.68,339.33 L181.08,339.80 L181.48,340.26 L181.87,340.71 L182.27,341.15 L182.67,341.58 L183.07,342.02 L183.47,342.46 L183.87,342.89 L184.27,343.33 L184.67,343.77 L185.07,344.20 L185.47,344.64 L185.86,345.07 L186.26,345.50 L186.66,345.93 L187.06,346.35 L187.46,346.77 L187.86,347.19 L188.26,347.61 L188.66,348.02 L189.06,348.43 L189.46,348.82 L189.85,349.21 L190.25,349.59 L190.65,349.97 L191.05,350.34 L191.45,350.71 L191.85,351.08 L192.25,351.44 L192.65,351.81 L193.05,352.17 L193.45,352.52 L193.84,352.88 L194.24,353.24 L194.64,353.59 L195.04,353.94 L195.44,354.29 L195.84,354.64 L196.24,354.98 L196.64,355.32 L197.04,355.66 L197.44,356.00 L197.83,356.33 L198.23,356.66 L198.63,356.99 L199.03,357.31 L199.43,357.62 L199.83,357.91 L200.23,358.20 L200.63,358.48 L201.03,358.75 L201.43,359.00 L201.82,359.25 L202.22,359.49 L202.62,359.71 L203.02,359.93 L203.42,360.13 L203.82,360.32 L204.22,360.50 L204.62,360.67 L205.02,360.82 L205.42,360.96 L205.81,361.08 L206.21,361.19 L206.61,361.30 L207.01,361.39 L207.41,361.47 L207.81,361.54 L208.21,361.61 L208.61,361.67 L209.01,361.72 L209.41,361.76 L209.80,361.79 L210.20,361.82 L210.60,361.85 L211.00,361.87 L211.40,361.88" fill="none" stroke="#0e0" stroke-width="1.3"/>
<path d="M92.10,314.47 L92.50,314.47 L92.91,314.47 L93.31,314.47 L93.71,314.47 L94.11,314.47 L94.52,314.48 L94.92,314.48 L95.32,314.48 L95.72,314.48 L96.13,314.48 L96.53,314.48 L96.93,314.48 L97.33,314.49 L97.74,314.49 L98.14,314.49 L98.54,314.49 L98.95,314.50 L99.35,314.50 L99.75,314.50 L100.15,314.50 L100.56,314.51 L100.96,314.51 L101.36,314.51 L101.76,314.52 L102.17,314.52 L102.57,314.52 L102.97,314.52 L103.37,314.53 L103.78,314.53 L104.18,314.53 L104.58,314.54 L104.99,314.54 L105.39,314.54 L105.79,314.55 L106.19,314.55 L106.60,314.56 L107.00,314.56 L107.40,314.56 L107.80,314.57 L108.21,314.57 L108.61,314.57 L109.01,314.58 L109.42,314.58 L109.82,314.59 L110.22,314.59 L110.62,314.59 L111.03,314.60 L111.43,314.60 L111.83,314.61 L112.23,314.61 L112.64,314.62 L113.04,314.62 L113.44,314.63 L113.84,314.64 L114.25,314.64 L114.65,314.65 L115.05,314.66 L115.46,314.66 L115.86,314.67 L116.26,314.68 L116.66,314.68 L117.07,314.69 L117.47,314.70 L117.87,314.71 L118.27,314.71 L118.68,314.72 L119.08,314.73 L119.48,314.74 L119.88,314.75 L120.29,314.75 L120.69,314.76 L121.09,314.77 L121.50,314.78 L121.90,314.79 L122.30,314.80 L122.70,314.81 L123.11,314.83 L123.51,314.84 L123.91,314.85 L124.31,314.86 L124.72,314.87 L125.12,314.89 L125.52,314.90 L125.92,314.91 L126.33,314.93 L126.73,314.94 L127.13,314.96 L127.54,314.98 L127.94,314.99 L128.34,315.01 L128.74,315.03 L129.15,315.05 L129.55,315.07 L129.95,315.09 L130.35,315.11 L130.76,315.13 L131.16,315.16 L131.56,315.19 L131.96,315.21 L132.37,315.24 L132.77,315.27 L133.17,315.30 L133.58,315.33 L133.98,315.37 L134.38,315.40 L134.78,315.43 L135.19,315.47 L135.59,315.50 L135.99,315.54 L136.39,315.58 L136.80,315.61 L137.20,315.65 L137.60,315.69 L138.01,315.73 L138.41,315.77 L138.81,315.81 L139.21,315.86 L139.62,315.91 L140.02,315.96 L140.42,316.01 L140.82,316.06 L141.23,316.11 L141.63,316.17 L142.03,316.23 L142.43,316.29 L142.84,316.35 L143.24,316.41 L143.64,316.47 L144.05,316.54 L144.45,316.60 L144.85,316.67 L145.25,316.73 L145.66,316.80 L146.06,316.87 L146.46,316.95 L146.86,317.03 L147.27,317.11 L147.67,317.19 L148.07,317.28 L148.47,317.37 L148.88,317.45 L149.28,317.54 L149.68,317.63 L150.09,317.72 L150.49,317.81 L150.89,317.90 L151.29,317.99 L151.70,318.08 L152.10,318.18 L152.50,318.27 L152.90,318.37 L153.31,318.46 L153.71,318.56 L154.11,318.66 L154.51,318.76 L154.92,318.86 L155.32,318.96 L155.72,319.07 L156.13,319.18 L156.53,319.29 L156.93,319.40 L157.33,319.51 L157.74,319.63 L158.14,319.75 L158.54,319.87 L158.94,319.99 L159.35,320.12 L159.75,320.24 L160.15,320.37 L160.55,320.50 L160.96,320.63 L161.36,320.77 L161.76,320.91 L162.17,321.05 L162.57,321.19 L162.97,321.33 L163.37,321.48 L163.78,321.63 L164.18,321.78 L164.58,321.93 L164.98,322.08 L165.39,322.29 L165.79,322.50 L166.19,322.72 L166.59,322.93 L167.00,323.16 L167.40,323.38 L167.80,323.61 L168.21,323.85 L168.61,324.09 L169.01,324.34 L169.41,324.60 L169.82,324.87 L170.22,325.15 L170.62,325.43 L171.02,325.72 L171.43,326.00 L171.83,326.27 L172.23,326.55 L172.64,326.82 L173.04,327.10 L173.44,327.38 L173.84,327.66 L174.25,327.95 L174.65,328.24 L175.05,328.53 L175.45,328.84 L175.86,329.15 L176.26,329.46 L176.66,329.77 L177.06,330.09 L177.47,330.41 L177.87,330.74 L178.27,331.06 L178.68,331.39 L179.08,331.73 L179.48,332.06 L179.88,332.41 L180.29,332.76 L180.69,333.11 L181.09,333.47 L181.49,333.84 L181.90,334.21 L182.30,334.58 L182.70,334.96 L183.10,335.34 L183.51,335.73 L183.91,336.13 L184.31,336.53 L184.72,336.94 L185.12,337.36 L185.52,337.78 L185.92,338.21 L186.33,338.63 L186.73,339.06 L187.13,339.48 L187.53,339.90 L187.94,340.33 L188.34,340.75 L188.74,341.18 L189.14,341.60 L189.55,342.01 L189.95,342.42 L190.35,342.83 L190.76,343.23 L191.16,343.63 L191.56,344.02 L191.96,344.41 L192.37,344.79 L192.77,345.17 L193.17,345.54 L193.57,345.90 L193.98,346.26 L194.38,346.62 L194.78,346.97 L195.18,347.32 L195.59,347.67 L195.99,348.01 L196.39,348.36 L196.80,348.71 L197.20,349.06 L197.60,349.42 L198.00,349.78 L198.41,350.14 L198.81,350.51 L199.21,350.87 L199.61,351.23 L200.02,351.58 L200.42,351.94 L200.82,352.30 L201.23,352.67 L201.63,353.03 L202.03,353.39 L202.43,353.74 L202.84,354.08 L203.24,354.40 L203.64,354.71 L204.04,355.02 L204.45,355.31 L204.85,355.60 L205.25,355.88 L205.65,356.15 L206.06,356.40 L206.46,356.65 L206.86,356.89 L207.27,357.11 L207.67,357.33 L208.07,357.54 L208.47,357.75 L208.88,357.94 L209.28,358.13 L209.68,358.31 L210.08,358.48 L210.49,358.65 L210.89,358.82 L211.29,358.97 L211.69,359.12 L212.10,359.26 L212.50,359.40" fill="none" stroke="#f00" stroke-width="1.3"/>
<path d="M92.10,314.65 L92.50,314.65 L92.91,314.65 L93.31,314.65 L93.71,314.65 L94.11,314.65 L94.52,314.65 L94.92,314.66 L95.32,314.66 L95.72,314.66 L96.13,314.66 L96.53,314.66 L96.93,314.67 L97.33,314.67 L97.74,314.67 L98.14,314.67 L98.54,314.68 L98.95,314.68 L99.35,314.68 L99.75,314.69 L100.15,314.69 L100.56,314.69 L100.96,314.70 L101.36,314.70 L101.76,314.70 L102.17,314.71 L102.57,314.71 L102.97,314.72 L103.37,314.72 L103.78,314.73 L104.18,314.73 L104.58,314.74 L104.99,314.74 L105.39,314.75 L105.79,314.75 L106.19,314.76 L106.60,314.76 L107.00,314.77 L107.40,314.77 L107.80,314.78 L108.21,314.78 L108.61,314.79 L109.01,314.79 L109.42,314.80 L109.82,314.80 L110.22,314.81 L110.62,314.82 L111.03,314.83 L111.43,314.83 L111.83,314.84 L112.23,314.85 L112.64,314.86 L113.04,314.87 L113.44,314.88 L113.84,314.89 L114.25,314.91 L114.65,314.92 L115.05,314.93 L115.46,314.94 L115.86,314.95 L116.26,314.97 L116.66,314.98 L117.07,314.99 L117.47,315.00 L117.87,315.02 L118.27,315.03 L118.68,315.04 L119.08,315.06 L119.48,315.07 L119.88,315.08 L120.29,315.09 L120.69,315.11 L121.09,315.12 L121.50,315.14 L121.90,315.15 L122.30,315.16 L122.70,315.18 L123.11,315.19 L123.51,315.21 L123.91,315.23 L124.31,315.24 L124.72,315.26 L125.12,315.28 L125.52,315.29 L125.92,315.31 L126.33,315.33 L126.73,315.35 L127.13,315.37 L127.54,315.39 L127.94,315.42 L128.34,315.44 L128.74,315.46 L129.15,315.49 L129.55,315.52 L129.95,315.55 L130.35,315.58 L130.76,315.61 L131.16,315.64 L131.56,315.68 L131.96,315.71 L132.37,315.75 L132.77,315.79 L133.17,315.83 L133.58,315.87 L133.98,315.91 L134.38,315.96 L134.78,316.00 L135.19,316.05 L135.59,316.09 L135.99,316.14 L136.39,316.18 L136.80,316.23 L137.20,316.28 L137.60,316.33 L138.01,316.38 L138.41,316.43 L138.81,316.48 L139.21,316.53 L139.62,316.58 L140.02,316.63 L140.42,316.68 L140.82,316.74 L141.23,316.80 L141.63,316.85 L142.03,316.92 L142.43,316.98 L142.84,317.04 L143.24,317.11 L143.64,317.18 L144.05,317.26 L144.45,317.34 L144.85,317.42 L145.25,317.50 L145.66,317.59 L146.06,317.69 L146.46,317.81 L146.86,317.94 L147.27,318.09 L147.67,318.24 L148.07,318.39 L148.47,318.55 L148.88,318.71 L149.28,318.86 L149.68,319.00 L150.09,319.13 L150.49,319.26 L150.89,319.38 L151.29,319.50 L151.70,319.61 L152.10,319.72 L152.50,319.83 L152.90,319.95 L153.31,320.06 L153.71,320.17 L154.11,320.28 L154.51,320.40 L154.92,320.52 L155.32,320.65 L155.72,320.78 L156.13,320.91 L156.53,321.05 L156.93,321.20 L157.33,321.34 L157.74,321.50 L158.14,321.65 L158.54,321.81 L158.94,321.98 L159.35,322.14 L159.75,322.31 L160.15,322.49 L160.55,322.66 L160.96,322.84 L161.36,323.02 L161.76,323.21 L162.17,323.39 L162.57,323.58 L162.97,323.77 L163.37,323.97 L163.78,324.16 L164.18,324.36 L164.58,324.57 L164.98,324.78 L165.39,325.01 L165.79,325.25 L166.19,325.49 L166.59,325.74 L167.00,325.99 L167.40,326.25 L167.80,326.51 L168.21,326.79 L168.61,327.06 L169.01,327.36 L169.41,327.67 L169.82,327.99 L170.22,328.32 L170.62,328.65 L171.02,328.99 L171.43,329.33 L171.83,329.65 L172.23,329.98 L172.64,330.31 L173.04,330.63 L173.44,330.97 L173.84,331.30 L174.25,331.65 L174.65,332.00 L175.05,332.36 L175.45,332.74 L175.86,333.12 L176.26,333.50 L176.66,333.90 L177.06,334.30 L177.47,334.70 L177.87,335.10 L178.27,335.51 L178.68,335.94 L179.08,336.37 L179.48,336.80 L179.88,337.24 L180.29,337.69 L180.69,338.13 L181.09,338.57 L181.49,339.01 L181.90,339.46 L182.30,339.90 L182.70,340.35 L183.10,340.79 L183.51,341.24 L183.91,341.68 L184.31,342.12 L184.72,342.57 L185.12,343.01 L185.52,343.45 L185.92,343.88 L186.33,344.32 L186.73,344.75 L187.13,345.18 L187.53,345.61 L187.94,346.04 L188.34,346.47 L188.74,346.89 L189.14,347.31 L189.55,347.72 L189.95,348.12 L190.35,348.52 L190.76,348.90 L191.16,349.28 L191.56,349.66 L191.96,350.03 L192.37,350.40 L192.77,350.77 L193.17,351.13 L193.57,351.50 L193.98,351.86 L194.38,352.22 L194.78,352.58 L195.18,352.94 L195.59,353.29 L195.99,353.65 L196.39,353.99 L196.80,354.34 L197.20,354.68 L197.60,355.03 L198.00,355.37 L198.41,355.71 L198.81,356.05 L199.21,356.38 L199.61,356.70 L200.02,357.01 L200.42,357.30 L200.82,357.59 L201.23,357.87 L201.63,358.14 L202.03,358.40 L202.43,358.66 L202.84,358.90 L203.24,359.12 L203.64,359.34 L204.04,359.54 L204.45,359.73 L204.85,359.91 L205.25,360.08 L205.65,360.23 L206.06,360.37 L206.46,360.50 L206.86,360.61 L207.27,360.71 L207.67,360.80 L208.07,360.88 L208.47,360.96 L208.88,361.02 L209.28,361.08 L209.68,361.12 L210.08,361.17 L210.49,361.20 L210.89,361.23 L211.29,361.26 L211.69,361.28 L212.10,361.29 L212.50,361.31" fill="none" stroke="#000090" stroke-width="1.3"/>
<rect x="64.6" y="233.6" width="250.50000000000003" height="156.50000000000003" fill="none" stroke="#000" stroke-width="1.5"/>
<path d="M81.21,233.6 v3.2 M81.21,390.1 v-3.2" stroke="#000" stroke-width="1.2"/>
<path d="M93.78,233.6 v3.2 M93.78,390.1 v-3.2" stroke="#000" stroke-width="1.2"/>
<path d="M101.13,233.6 v3.2 M101.13,390.1 v-3.2" stroke="#000" stroke-width="1.2"/>
<path d="M106.35,233.6 v5.4 M106.35,390.1 v-5.4" stroke="#000" stroke-width="1.3"/>
<path d="M122.96,233.6 v3.2 M122.96,390.1 v-3.2" stroke="#000" stroke-width="1.2"/>
<path d="M135.53,233.6 v3.2 M135.53,390.1 v-3.2" stroke="#000" stroke-width="1.2"/>
<path d="M142.88,233.6 v3.2 M142.88,390.1 v-3.2" stroke="#000" stroke-width="1.2"/>
<path d="M148.10,233.6 v5.4 M148.10,390.1 v-5.4" stroke="#000" stroke-width="1.3"/>
<path d="M164.71,233.6 v3.2 M164.71,390.1 v-3.2" stroke="#000" stroke-width="1.2"/>
<path d="M177.28,233.6 v3.2 M177.28,390.1 v-3.2" stroke="#000" stroke-width="1.2"/>
<path d="M184.63,233.6 v3.2 M184.63,390.1 v-3.2" stroke="#000" stroke-width="1.2"/>
<path d="M189.85,233.6 v5.4 M189.85,390.1 v-5.4" stroke="#000" stroke-width="1.3"/>
<path d="M206.46,233.6 v3.2 M206.46,390.1 v-3.2" stroke="#000" stroke-width="1.2"/>
<path d="M219.03,233.6 v3.2 M219.03,390.1 v-3.2" stroke="#000" stroke-width="1.2"/>
<path d="M226.38,233.6 v3.2 M226.38,390.1 v-3.2" stroke="#000" stroke-width="1.2"/>
<path d="M231.60,233.6 v5.4 M231.60,390.1 v-5.4" stroke="#000" stroke-width="1.3"/>
<path d="M248.21,233.6 v3.2 M248.21,390.1 v-3.2" stroke="#000" stroke-width="1.2"/>
<path d="M260.78,233.6 v3.2 M260.78,390.1 v-3.2" stroke="#000" stroke-width="1.2"/>
<path d="M268.13,233.6 v3.2 M268.13,390.1 v-3.2" stroke="#000" stroke-width="1.2"/>
<path d="M273.35,233.6 v5.4 M273.35,390.1 v-5.4" stroke="#000" stroke-width="1.3"/>
<path d="M289.96,233.6 v3.2 M289.96,390.1 v-3.2" stroke="#000" stroke-width="1.2"/>
<path d="M302.53,233.6 v3.2 M302.53,390.1 v-3.2" stroke="#000" stroke-width="1.2"/>
<path d="M309.88,233.6 v3.2 M309.88,390.1 v-3.2" stroke="#000" stroke-width="1.2"/>
<path d="M64.6,327.60 h5.4 M315.1,327.60 h-5.4" stroke="#000" stroke-width="1.3"/>
<path d="M64.6,265.10 h5.4 M315.1,265.10 h-5.4" stroke="#000" stroke-width="1.3"/>
<path d="M64.6,358.85 h3.2 M315.1,358.85 h-3.2" stroke="#000" stroke-width="1.2"/>
<path d="M64.6,296.35 h3.2 M315.1,296.35 h-3.2" stroke="#000" stroke-width="1.2"/>
<circle cx="247.2" cy="248.9" r="1.9" fill="#f00"/>
<circle cx="247.2" cy="272.1" r="1.9" fill="#00f"/>
</svg>
<svg class="t" width="390" height="505" viewBox="0 0 390 505">
<text x="90.30000000000001" y="166.30" font-size="6.35" text-anchor="end" stroke="#000" stroke-width="0.2" font-family="Liberation Sans, sans-serif">0,00</text>
<text x="90.30000000000001" y="152.22" font-size="6.35" text-anchor="end" stroke="#000" stroke-width="0.2" font-family="Liberation Sans, sans-serif">0,04</text>
<text x="90.30000000000001" y="138.14" font-size="6.35" text-anchor="end" stroke="#000" stroke-width="0.2" font-family="Liberation Sans, sans-serif">0,08</text>
<text x="90.30000000000001" y="124.06" font-size="6.35" text-anchor="end" stroke="#000" stroke-width="0.2" font-family="Liberation Sans, sans-serif">0,12</text>
<text x="90.30000000000001" y="109.98" font-size="6.35" text-anchor="end" stroke="#000" stroke-width="0.2" font-family="Liberation Sans, sans-serif">0,16</text>
<text x="90.30000000000001" y="95.90" font-size="6.35" text-anchor="end" stroke="#000" stroke-width="0.2" font-family="Liberation Sans, sans-serif">0,20</text>
<text x="91.90" y="178.00" font-size="6.35" text-anchor="middle" stroke="#000" stroke-width="0.2" font-family="Liberation Sans, sans-serif">1E-7</text>
<text x="131.77" y="178.00" font-size="6.35" text-anchor="middle" stroke="#000" stroke-width="0.2" font-family="Liberation Sans, sans-serif">1E-5</text>
<text x="171.63" y="178.00" font-size="6.35" text-anchor="middle" stroke="#000" stroke-width="0.2" font-family="Liberation Sans, sans-serif">1E-3</text>
<text x="211.50" y="178.00" font-size="6.35" text-anchor="middle" stroke="#000" stroke-width="0.2" font-family="Liberation Sans, sans-serif">0,1</text>
<text transform="translate(58.6,189.55) scale(0.94,1)" font-size="9.9" text-anchor="end" stroke="#000" stroke-width="0.25" font-family="Liberation Sans, sans-serif">0,00</text>
<text transform="translate(58.6,147.85) scale(0.94,1)" font-size="9.9" text-anchor="end" stroke="#000" stroke-width="0.25" font-family="Liberation Sans, sans-serif">0,04</text>
<text transform="translate(58.6,106.15) scale(0.94,1)" font-size="9.9" text-anchor="end" stroke="#000" stroke-width="0.25" font-family="Liberation Sans, sans-serif">0,08</text>
<text transform="translate(58.6,64.45) scale(0.94,1)" font-size="9.9" text-anchor="end" stroke="#000" stroke-width="0.25" font-family="Liberation Sans, sans-serif">0,12</text>
<text transform="translate(64.60,199.75) scale(0.93,1)" font-size="9.9" text-anchor="middle" stroke="#000" stroke-width="0.25" font-family="Liberation Sans, sans-serif">1E-7</text>
<text transform="translate(106.35,199.75) scale(0.93,1)" font-size="9.9" text-anchor="middle" stroke="#000" stroke-width="0.25" font-family="Liberation Sans, sans-serif">1E-6</text>
<text transform="translate(148.10,199.75) scale(0.93,1)" font-size="9.9" text-anchor="middle" stroke="#000" stroke-width="0.25" font-family="Liberation Sans, sans-serif">1E-5</text>
<text transform="translate(189.85,199.75) scale(0.93,1)" font-size="9.9" text-anchor="middle" stroke="#000" stroke-width="0.25" font-family="Liberation Sans, sans-serif">1E-4</text>
<text transform="translate(231.60,199.75) scale(0.93,1)" font-size="9.9" text-anchor="middle" stroke="#000" stroke-width="0.25" font-family="Liberation Sans, sans-serif">1E-3</text>
<text transform="translate(273.35,199.75) scale(0.93,1)" font-size="9.9" text-anchor="middle" stroke="#000" stroke-width="0.25" font-family="Liberation Sans, sans-serif">0,01</text>
<text transform="translate(315.10,199.75) scale(0.93,1)" font-size="9.9" text-anchor="middle" stroke="#000" stroke-width="0.25" font-family="Liberation Sans, sans-serif">0,1</text>
<text transform="translate(265.2,46.5) scale(0.91,1)" font-size="11" font-family="Liberation Sans, sans-serif">k</text>
<text transform="translate(270.8,52.50) scale(0.93,1)" font-size="7.2" font-family="Liberation Sans, sans-serif">B</text>
<text transform="translate(275.9,46.5) scale(0.91,1)" font-size="11" font-family="Liberation Sans, sans-serif">T=10</text>
<text transform="translate(299.2,40.30) scale(0.93,1)" font-size="8.2" font-family="Liberation Sans, sans-serif">-2</text>
<text transform="translate(265.2,69.7) scale(0.91,1)" font-size="11" font-family="Liberation Sans, sans-serif">k</text>
<text transform="translate(270.8,75.70) scale(0.93,1)" font-size="7.2" font-family="Liberation Sans, sans-serif">B</text>
<text transform="translate(275.9,69.7) scale(0.91,1)" font-size="11" font-family="Liberation Sans, sans-serif">T=10</text>
<text transform="translate(299.2,63.50) scale(0.93,1)" font-size="8.2" font-family="Liberation Sans, sans-serif">-4</text>
<text transform="translate(32.2,116) rotate(-90)" font-size="12.6" text-anchor="middle" font-family="Liberation Sans, sans-serif">rate</text>
<text x="176" y="213.4" font-size="12.5" text-anchor="middle" font-family="Liberation Sans, sans-serif">γ</text>
<text x="90.5" y="366.30" font-size="5.95" text-anchor="end" stroke="#000" stroke-width="0.2" font-family="Liberation Sans, sans-serif">0,0000</text>
<text x="90.5" y="343.90" font-size="5.95" text-anchor="end" stroke="#000" stroke-width="0.2" font-family="Liberation Sans, sans-serif">0,0002</text>
<text x="90.5" y="321.50" font-size="5.95" text-anchor="end" stroke="#000" stroke-width="0.2" font-family="Liberation Sans, sans-serif">0,0004</text>
<text x="90.5" y="299.10" font-size="5.95" text-anchor="end" stroke="#000" stroke-width="0.2" font-family="Liberation Sans, sans-serif">0,0006</text>
<text x="92.10" y="382.10" font-size="6.35" text-anchor="middle" stroke="#000" stroke-width="0.2" font-family="Liberation Sans, sans-serif">1E-7</text>
<text x="132.23" y="382.10" font-size="6.35" text-anchor="middle" stroke="#000" stroke-width="0.2" font-family="Liberation Sans, sans-serif">1E-5</text>
<text x="172.37" y="382.10" font-size="6.35" text-anchor="middle" stroke="#000" stroke-width="0.2" font-family="Liberation Sans, sans-serif">1E-3</text>
<text x="212.50" y="382.10" font-size="6.35" text-anchor="middle" stroke="#000" stroke-width="0.2" font-family="Liberation Sans, sans-serif">0,1</text>
<text transform="translate(58.2,393.55) scale(0.94,1)" font-size="9.9" text-anchor="end" stroke="#000" stroke-width="0.25" font-family="Liberation Sans, sans-serif">0,0000</text>
<text transform="translate(58.2,331.05) scale(0.94,1)" font-size="9.9" text-anchor="end" stroke="#000" stroke-width="0.25" font-family="Liberation Sans, sans-serif">0,0002</text>
<text transform="translate(58.2,268.55) scale(0.94,1)" font-size="9.9" text-anchor="end" stroke="#000" stroke-width="0.25" font-family="Liberation Sans, sans-serif">0,0004</text>
<text transform="translate(64.60,403.75) scale(0.93,1)" font-size="9.9" text-anchor="middle" stroke="#000" stroke-width="0.25" font-family="Liberation Sans, sans-serif">1E-7</text>
<text transform="translate(106.35,403.75) scale(0.93,1)" font-size="9.9" text-anchor="middle" stroke="#000" stroke-width="0.25" font-family="Liberation Sans, sans-serif">1E-6</text>
<text transform="translate(148.10,403.75) scale(0.93,1)" font-size="9.9" text-anchor="middle" stroke="#000" stroke-width="0.25" font-family="Liberation Sans, sans-serif">1E-5</text>
<text transform="translate(189.85,403.75) scale(0.93,1)" font-size="9.9" text-anchor="middle" stroke="#000" stroke-width="0.25" font-family="Liberation Sans, sans-serif">1E-4</text>
<text transform="translate(231.60,403.75) scale(0.93,1)" font-size="9.9" text-anchor="middle" stroke="#000" stroke-width="0.25" font-family="Liberation Sans, sans-serif">1E-3</text>
<text transform="translate(273.35,403.75) scale(0.93,1)" font-size="9.9" text-anchor="middle" stroke="#000" stroke-width="0.25" font-family="Liberation Sans, sans-serif">0,01</text>
<text transform="translate(315.10,403.75) scale(0.93,1)" font-size="9.9" text-anchor="middle" stroke="#000" stroke-width="0.25" font-family="Liberation Sans, sans-serif">0,1</text>
<text transform="translate(261.5,253.8) scale(0.91,1)" font-size="11" font-family="Liberation Sans, sans-serif">k</text>
<text transform="translate(267.1,259.80) scale(0.93,1)" font-size="7.2" font-family="Liberation Sans, sans-serif">B</text>
<text transform="translate(272.2,253.8) scale(0.91,1)" font-size="11" font-family="Liberation Sans, sans-serif">T=10</text>
<text transform="translate(295.5,247.60) scale(0.93,1)" font-size="8.2" font-family="Liberation Sans, sans-serif">-2</text>
<text transform="translate(261.5,277.4) scale(0.91,1)" font-size="11" font-family="Liberation Sans, sans-serif">k</text>
<text transform="translate(267.1,283.40) scale(0.93,1)" font-size="7.2" font-family="Liberation Sans, sans-serif">B</text>
<text transform="translate(272.2,277.4) scale(0.91,1)" font-size="11" font-family="Liberation Sans, sans-serif">T=10</text>
<text transform="translate(295.5,271.20) scale(0.93,1)" font-size="8.2" font-family="Liberation Sans, sans-serif">-4</text>
<text transform="translate(27.2,298.7) rotate(-90)" font-size="12.6" text-anchor="middle" font-family="Liberation Sans, sans-serif">rate</text>
<text x="190" y="419.6" font-size="12.5" text-anchor="middle" font-family="Liberation Sans, sans-serif">γ</text>
</svg>
</body></html>
